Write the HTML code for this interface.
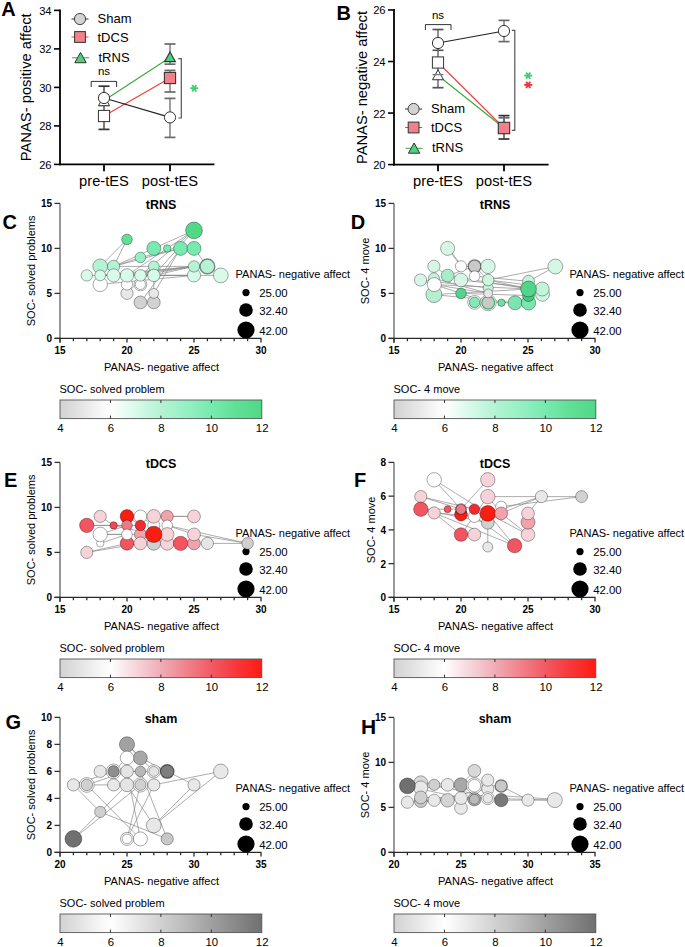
<!DOCTYPE html>
<html><head><meta charset="utf-8"><style>
html,body{margin:0;padding:0;background:#fff;}
svg{display:block;font-family:"Liberation Sans", sans-serif;}
</style></head><body>
<svg width="685" height="947" viewBox="0 0 685 947">
<rect width="685" height="947" fill="#fff"/>
<text x="1.3" y="16.2" font-size="20" text-anchor="start" font-weight="bold" fill="#000">A</text>
<line x1="60.00" y1="9.50" x2="60.00" y2="165.30" stroke="#000" stroke-width="1.8"/>
<line x1="59.10" y1="164.40" x2="214.40" y2="164.40" stroke="#000" stroke-width="1.8"/>
<line x1="54.00" y1="164.40" x2="60.00" y2="164.40" stroke="#000" stroke-width="1.6"/>
<text x="51.6" y="168.9" font-size="11.2" text-anchor="end" fill="#000">26</text>
<line x1="54.00" y1="125.90" x2="60.00" y2="125.90" stroke="#000" stroke-width="1.6"/>
<text x="51.6" y="130.4" font-size="11.2" text-anchor="end" fill="#000">28</text>
<line x1="54.00" y1="87.40" x2="60.00" y2="87.40" stroke="#000" stroke-width="1.6"/>
<text x="51.6" y="91.9" font-size="11.2" text-anchor="end" fill="#000">30</text>
<line x1="54.00" y1="48.90" x2="60.00" y2="48.90" stroke="#000" stroke-width="1.6"/>
<text x="51.6" y="53.400000000000006" font-size="11.2" text-anchor="end" fill="#000">32</text>
<line x1="54.00" y1="10.40" x2="60.00" y2="10.40" stroke="#000" stroke-width="1.6"/>
<text x="51.6" y="14.900000000000006" font-size="11.2" text-anchor="end" fill="#000">34</text>
<line x1="104.00" y1="164.40" x2="104.00" y2="171.20" stroke="#000" stroke-width="1.8"/>
<line x1="170.00" y1="164.40" x2="170.00" y2="171.20" stroke="#000" stroke-width="1.8"/>
<text x="104" y="186.2" font-size="14.7" text-anchor="middle" fill="#000">pre-tES</text>
<text x="170" y="186.2" font-size="14.7" text-anchor="middle" fill="#000">post-tES</text>
<text x="30.7" y="87.3" font-size="14.6" text-anchor="middle" fill="#000" transform="rotate(-90 30.7 87.3)" textLength="148" lengthAdjust="spacingAndGlyphs">PANAS- positive affect</text>
<line x1="71.50" y1="19.00" x2="88.50" y2="19.00" stroke="#333" stroke-width="1"/>
<circle cx="80.00" cy="19.00" r="5.60" fill="#d3d3d3" stroke="#444" stroke-width="1"/>
<line x1="71.50" y1="37.00" x2="88.50" y2="37.00" stroke="#f03c3c" stroke-width="1"/>
<rect x="74.60" y="31.60" width="10.80" height="10.80" fill="#f0808a" stroke="#333" stroke-width="1"/>
<line x1="72.00" y1="57.80" x2="89.00" y2="57.80" stroke="#3aa63a" stroke-width="1"/>
<polygon points="80.50,52.46 86.20,62.72 74.80,62.72" fill="#4fcf7f" stroke="#333" stroke-width="1"/>
<text x="97.5" y="23.3" font-size="13" text-anchor="start" fill="#000">Sham</text>
<text x="97.5" y="41.8" font-size="13" text-anchor="start" fill="#000">tDCS</text>
<text x="98.5" y="61.8" font-size="13" text-anchor="start" fill="#000">tRNS</text>
<line x1="104.00" y1="86.20" x2="104.00" y2="129.40" stroke="#333" stroke-width="1.3"/>
<line x1="98.50" y1="86.20" x2="109.50" y2="86.20" stroke="#333" stroke-width="1.7"/>
<line x1="98.50" y1="129.40" x2="109.50" y2="129.40" stroke="#333" stroke-width="1.7"/>
<line x1="98.50" y1="105.60" x2="109.50" y2="105.60" stroke="#777" stroke-width="1.4"/>
<line x1="170.00" y1="98.40" x2="170.00" y2="137.40" stroke="#6a6a6a" stroke-width="1.3"/>
<line x1="164.50" y1="98.40" x2="175.50" y2="98.40" stroke="#6a6a6a" stroke-width="1.7"/>
<line x1="164.50" y1="137.40" x2="175.50" y2="137.40" stroke="#6a6a6a" stroke-width="1.7"/>
<line x1="170.00" y1="70.40" x2="170.00" y2="92.00" stroke="#6a6a6a" stroke-width="1.3"/>
<line x1="164.50" y1="70.40" x2="175.50" y2="70.40" stroke="#6a6a6a" stroke-width="1.7"/>
<line x1="164.50" y1="92.00" x2="175.50" y2="92.00" stroke="#6a6a6a" stroke-width="1.7"/>
<line x1="170.00" y1="44.00" x2="170.00" y2="64.20" stroke="#6a6a6a" stroke-width="1.3"/>
<line x1="164.50" y1="44.00" x2="175.50" y2="44.00" stroke="#6a6a6a" stroke-width="1.7"/>
<line x1="164.50" y1="64.20" x2="175.50" y2="64.20" stroke="#6a6a6a" stroke-width="1.7"/>
<line x1="104.00" y1="100.50" x2="170.00" y2="57.50" stroke="#3aa63a" stroke-width="1.1"/>
<line x1="104.00" y1="116.00" x2="170.00" y2="78.00" stroke="#f03c3c" stroke-width="1.1"/>
<line x1="104.00" y1="98.00" x2="170.00" y2="117.40" stroke="#222" stroke-width="1.1"/>
<polygon points="104.00,95.75 109.50,105.66 98.50,105.66" fill="#fff" stroke="#333" stroke-width="1"/>
<rect x="98.40" y="110.40" width="11.20" height="11.20" fill="#fff" stroke="#333" stroke-width="1"/>
<circle cx="104.00" cy="98.00" r="5.60" fill="#fff" stroke="#333" stroke-width="1"/>
<circle cx="170.00" cy="117.40" r="5.60" fill="#fff" stroke="#333" stroke-width="1"/>
<rect x="164.40" y="72.40" width="11.20" height="11.20" fill="#f0808a" stroke="#333" stroke-width="1.1"/>
<polygon points="170.00,51.95 175.40,61.67 164.60,61.67" fill="#4fcf7f" stroke="#333" stroke-width="1.1"/>
<polyline points="91.2,87 91.2,81.4 116.6,81.4 116.6,87" fill="none" stroke="#333" stroke-width="1"/>
<text x="104" y="75.2" font-size="11.5" text-anchor="middle" fill="#000">ns</text>
<polyline points="178.3,58.6 181.3,58.6 181.3,118 178.3,118" fill="none" stroke="#555" stroke-width="1.2"/>
<line x1="190.20" y1="88.20" x2="198.20" y2="88.20" stroke="#45cc78" stroke-width="1.9"/>
<line x1="192.20" y1="85.01" x2="196.20" y2="91.39" stroke="#45cc78" stroke-width="1.9"/>
<line x1="196.20" y1="85.01" x2="192.20" y2="91.39" stroke="#45cc78" stroke-width="1.9"/>
<text x="336.4" y="20.0" font-size="20" text-anchor="start" font-weight="bold" fill="#000">B</text>
<line x1="394.00" y1="9.08" x2="394.00" y2="165.50" stroke="#000" stroke-width="1.8"/>
<line x1="393.10" y1="164.60" x2="548.60" y2="164.60" stroke="#000" stroke-width="1.8"/>
<line x1="388.00" y1="164.60" x2="394.00" y2="164.60" stroke="#000" stroke-width="1.6"/>
<text x="385.6" y="169.1" font-size="11.2" text-anchor="end" fill="#000">20</text>
<line x1="388.00" y1="113.06" x2="394.00" y2="113.06" stroke="#000" stroke-width="1.6"/>
<text x="385.6" y="117.56" font-size="11.2" text-anchor="end" fill="#000">22</text>
<line x1="388.00" y1="61.52" x2="394.00" y2="61.52" stroke="#000" stroke-width="1.6"/>
<text x="385.6" y="66.02" font-size="11.2" text-anchor="end" fill="#000">24</text>
<line x1="388.00" y1="9.98" x2="394.00" y2="9.98" stroke="#000" stroke-width="1.6"/>
<text x="385.6" y="14.47999999999999" font-size="11.2" text-anchor="end" fill="#000">26</text>
<line x1="438.00" y1="164.60" x2="438.00" y2="171.20" stroke="#000" stroke-width="1.8"/>
<line x1="504.00" y1="164.60" x2="504.00" y2="171.20" stroke="#000" stroke-width="1.8"/>
<text x="438" y="186.2" font-size="14.7" text-anchor="middle" fill="#000">pre-tES</text>
<text x="504" y="186.2" font-size="14.7" text-anchor="middle" fill="#000">post-tES</text>
<text x="366.8" y="87.5" font-size="14.6" text-anchor="middle" fill="#000" transform="rotate(-90 366.8 87.5)" textLength="153" lengthAdjust="spacingAndGlyphs">PANAS- negative affect</text>
<line x1="405.10" y1="109.00" x2="422.10" y2="109.00" stroke="#333" stroke-width="1"/>
<circle cx="413.60" cy="109.00" r="5.60" fill="#d3d3d3" stroke="#444" stroke-width="1"/>
<line x1="405.10" y1="127.50" x2="422.10" y2="127.50" stroke="#f03c3c" stroke-width="1"/>
<rect x="408.20" y="122.10" width="10.80" height="10.80" fill="#f0808a" stroke="#333" stroke-width="1"/>
<line x1="405.60" y1="148.30" x2="422.60" y2="148.30" stroke="#3aa63a" stroke-width="1"/>
<polygon points="414.10,142.96 419.80,153.22 408.40,153.22" fill="#4fcf7f" stroke="#333" stroke-width="1"/>
<text x="431" y="113.3" font-size="13" text-anchor="start" fill="#000">Sham</text>
<text x="431" y="132.3" font-size="13" text-anchor="start" fill="#000">tDCS</text>
<text x="432" y="152.3" font-size="13" text-anchor="start" fill="#000">tRNS</text>
<line x1="438.00" y1="29.50" x2="438.00" y2="87.70" stroke="#555" stroke-width="1.3"/>
<line x1="432.50" y1="29.50" x2="443.50" y2="29.50" stroke="#555" stroke-width="1.7"/>
<line x1="432.50" y1="87.70" x2="443.50" y2="87.70" stroke="#555" stroke-width="1.7"/>
<line x1="432.50" y1="50.30" x2="443.50" y2="50.30" stroke="#555" stroke-width="1.6"/>
<line x1="504.00" y1="20.40" x2="504.00" y2="41.60" stroke="#6a6a6a" stroke-width="1.3"/>
<line x1="498.50" y1="20.40" x2="509.50" y2="20.40" stroke="#6a6a6a" stroke-width="1.7"/>
<line x1="498.50" y1="41.60" x2="509.50" y2="41.60" stroke="#6a6a6a" stroke-width="1.7"/>
<line x1="504.00" y1="115.60" x2="504.00" y2="139.00" stroke="#333" stroke-width="1.3"/>
<line x1="498.50" y1="115.60" x2="509.50" y2="115.60" stroke="#333" stroke-width="1.7"/>
<line x1="498.50" y1="139.00" x2="509.50" y2="139.00" stroke="#333" stroke-width="1.7"/>
<line x1="504.00" y1="117.80" x2="504.00" y2="132.50" stroke="#6a6a6a" stroke-width="1.3"/>
<line x1="498.50" y1="117.80" x2="509.50" y2="117.80" stroke="#6a6a6a" stroke-width="1.7"/>
<line x1="498.50" y1="132.50" x2="509.50" y2="132.50" stroke="#6a6a6a" stroke-width="1.7"/>
<line x1="438.00" y1="43.00" x2="504.00" y2="31.00" stroke="#222" stroke-width="1.1"/>
<line x1="438.00" y1="62.50" x2="504.00" y2="128.00" stroke="#f03c3c" stroke-width="1.1"/>
<line x1="438.00" y1="75.50" x2="504.00" y2="128.00" stroke="#3aa63a" stroke-width="1.1"/>
<circle cx="438.00" cy="43.00" r="5.60" fill="#fff" stroke="#333" stroke-width="1"/>
<rect x="432.40" y="56.90" width="11.20" height="11.20" fill="#fff" stroke="#333" stroke-width="1"/>
<polygon points="438.00,69.85 443.50,79.75 432.50,79.75" fill="#fff" stroke="#333" stroke-width="1"/>
<line x1="432.50" y1="74.60" x2="443.50" y2="74.60" stroke="#777" stroke-width="1.3"/>
<circle cx="504.00" cy="31.00" r="5.60" fill="#fff" stroke="#333" stroke-width="1"/>
<polygon points="504.00,122.65 509.40,132.37 498.60,132.37" fill="#4fcf7f" stroke="#333" stroke-width="1"/>
<rect x="498.30" y="122.30" width="11.40" height="11.40" fill="#f0808a" stroke="#333" stroke-width="1.1"/>
<polyline points="425.4,30 425.4,24.6 451,24.6 451,30" fill="none" stroke="#333" stroke-width="1"/>
<text x="438" y="18.9" font-size="11.5" text-anchor="middle" fill="#000">ns</text>
<polyline points="511.8,30.4 514.8,30.4 514.8,130.4 511.8,130.4" fill="none" stroke="#555" stroke-width="1.2"/>
<line x1="524.20" y1="75.60" x2="532.20" y2="75.60" stroke="#45cc78" stroke-width="1.9"/>
<line x1="526.20" y1="72.41" x2="530.20" y2="78.79" stroke="#45cc78" stroke-width="1.9"/>
<line x1="530.20" y1="72.41" x2="526.20" y2="78.79" stroke="#45cc78" stroke-width="1.9"/>
<line x1="524.20" y1="84.90" x2="532.20" y2="84.90" stroke="#ee3338" stroke-width="1.9"/>
<line x1="526.20" y1="81.71" x2="530.20" y2="88.09" stroke="#ee3338" stroke-width="1.9"/>
<line x1="530.20" y1="81.71" x2="526.20" y2="88.09" stroke="#ee3338" stroke-width="1.9"/>
<line x1="60.00" y1="203.40" x2="60.00" y2="342.90" stroke="#6e6e6e" stroke-width="1.4"/>
<line x1="54.50" y1="338.40" x2="60.00" y2="338.40" stroke="#333" stroke-width="1.3"/>
<text x="52.0" y="342.4" font-size="10" text-anchor="end" font-weight="bold" fill="#000">0</text>
<line x1="54.50" y1="293.40" x2="60.00" y2="293.40" stroke="#333" stroke-width="1.3"/>
<text x="52.0" y="297.4" font-size="10" text-anchor="end" font-weight="bold" fill="#000">5</text>
<line x1="54.50" y1="248.40" x2="60.00" y2="248.40" stroke="#333" stroke-width="1.3"/>
<text x="52.0" y="252.39999999999998" font-size="10" text-anchor="end" font-weight="bold" fill="#000">10</text>
<line x1="54.50" y1="203.40" x2="60.00" y2="203.40" stroke="#333" stroke-width="1.3"/>
<text x="52.0" y="207.39999999999998" font-size="10" text-anchor="end" font-weight="bold" fill="#000">15</text>
<line x1="54.50" y1="338.40" x2="261.50" y2="338.40" stroke="#2a2a2a" stroke-width="1.4"/>
<line x1="60.00" y1="338.40" x2="60.00" y2="342.60" stroke="#2a2a2a" stroke-width="1.3"/>
<text x="60.0" y="353.79999999999995" font-size="10" text-anchor="middle" font-weight="bold" fill="#000">15</text>
<line x1="73.40" y1="338.40" x2="73.40" y2="341.20" stroke="#2a2a2a" stroke-width="1.3"/>
<line x1="86.80" y1="338.40" x2="86.80" y2="341.20" stroke="#2a2a2a" stroke-width="1.3"/>
<line x1="100.20" y1="338.40" x2="100.20" y2="341.20" stroke="#2a2a2a" stroke-width="1.3"/>
<line x1="113.60" y1="338.40" x2="113.60" y2="341.20" stroke="#2a2a2a" stroke-width="1.3"/>
<line x1="127.00" y1="338.40" x2="127.00" y2="342.60" stroke="#2a2a2a" stroke-width="1.3"/>
<text x="127.0" y="353.79999999999995" font-size="10" text-anchor="middle" font-weight="bold" fill="#000">20</text>
<line x1="140.40" y1="338.40" x2="140.40" y2="341.20" stroke="#2a2a2a" stroke-width="1.3"/>
<line x1="153.80" y1="338.40" x2="153.80" y2="341.20" stroke="#2a2a2a" stroke-width="1.3"/>
<line x1="167.20" y1="338.40" x2="167.20" y2="341.20" stroke="#2a2a2a" stroke-width="1.3"/>
<line x1="180.60" y1="338.40" x2="180.60" y2="341.20" stroke="#2a2a2a" stroke-width="1.3"/>
<line x1="194.00" y1="338.40" x2="194.00" y2="342.60" stroke="#2a2a2a" stroke-width="1.3"/>
<text x="194.0" y="353.79999999999995" font-size="10" text-anchor="middle" font-weight="bold" fill="#000">25</text>
<line x1="207.40" y1="338.40" x2="207.40" y2="341.20" stroke="#2a2a2a" stroke-width="1.3"/>
<line x1="220.80" y1="338.40" x2="220.80" y2="341.20" stroke="#2a2a2a" stroke-width="1.3"/>
<line x1="234.20" y1="338.40" x2="234.20" y2="341.20" stroke="#2a2a2a" stroke-width="1.3"/>
<line x1="247.60" y1="338.40" x2="247.60" y2="341.20" stroke="#2a2a2a" stroke-width="1.3"/>
<line x1="261.00" y1="338.40" x2="261.00" y2="342.60" stroke="#2a2a2a" stroke-width="1.3"/>
<text x="261.0" y="353.79999999999995" font-size="10" text-anchor="middle" font-weight="bold" fill="#000">30</text>
<text x="161.5" y="370.9" font-size="11.3" text-anchor="middle" fill="#000" textLength="115" lengthAdjust="spacingAndGlyphs">PANAS- negative affect</text>
<text x="34.8" y="270.9" font-size="11" text-anchor="middle" fill="#000" transform="rotate(-90 34.8 270.9)">SOC- solved problems</text>
<text x="161" y="209.39999999999998" font-size="12.5" text-anchor="middle" font-weight="bold" fill="#000">tRNS</text>
<text x="2.6" y="229" font-size="20" text-anchor="start" font-weight="bold" fill="#000">C</text>
<text x="235.6" y="278.0" font-size="11" text-anchor="start" fill="#000">PANAS- negative affect</text>
<circle cx="246" cy="292.59999999999997" r="3.6" fill="#000"/>
<text x="259.2" y="297.2" font-size="11.4" text-anchor="start" fill="#000">25.00</text>
<circle cx="246" cy="310.0" r="6.8" fill="#000"/>
<text x="259.2" y="314.6" font-size="11.4" text-anchor="start" fill="#000">32.40</text>
<circle cx="246" cy="330.0" r="8.6" fill="#000"/>
<text x="259.2" y="334.6" font-size="11.4" text-anchor="start" fill="#000">42.00</text>
<defs><linearGradient id="cbC" x1="0" x2="1" y1="0" y2="0"><stop offset="0.0000" stop-color="#d2d2d2"/><stop offset="0.0625" stop-color="#dddddd"/><stop offset="0.1250" stop-color="#e8e8e8"/><stop offset="0.1875" stop-color="#f4f4f4"/><stop offset="0.2500" stop-color="#ffffff"/><stop offset="0.3125" stop-color="#ecfcf4"/><stop offset="0.3750" stop-color="#d8faea"/><stop offset="0.4375" stop-color="#c6f6df"/><stop offset="0.5000" stop-color="#b4f3d4"/><stop offset="0.5625" stop-color="#a5f2cc"/><stop offset="0.6250" stop-color="#96f0c4"/><stop offset="0.6875" stop-color="#87edba"/><stop offset="0.7500" stop-color="#78eab0"/><stop offset="0.8125" stop-color="#6ce5a3"/><stop offset="0.8750" stop-color="#5fe096"/><stop offset="0.9375" stop-color="#58dc8e"/><stop offset="1.0000" stop-color="#50d887"/></linearGradient></defs>
<rect x="60" y="400.0" width="201.8" height="18.6" fill="url(#cbC)" stroke="#555" stroke-width="0.9"/>
<line x1="110.45" y1="400.00" x2="110.45" y2="403.00" stroke="#333" stroke-width="1"/>
<line x1="110.45" y1="415.60" x2="110.45" y2="418.60" stroke="#333" stroke-width="1"/>
<line x1="160.90" y1="400.00" x2="160.90" y2="403.00" stroke="#333" stroke-width="1"/>
<line x1="160.90" y1="415.60" x2="160.90" y2="418.60" stroke="#333" stroke-width="1"/>
<line x1="211.35" y1="400.00" x2="211.35" y2="403.00" stroke="#333" stroke-width="1"/>
<line x1="211.35" y1="415.60" x2="211.35" y2="418.60" stroke="#333" stroke-width="1"/>
<text x="60.4" y="432.0" font-size="11.4" text-anchor="middle" fill="#000">4</text>
<text x="110.85000000000001" y="432.0" font-size="11.4" text-anchor="middle" fill="#000">6</text>
<text x="161.3" y="432.0" font-size="11.4" text-anchor="middle" fill="#000">8</text>
<text x="211.75000000000003" y="432.0" font-size="11.4" text-anchor="middle" fill="#000">10</text>
<text x="262.2" y="432.0" font-size="11.4" text-anchor="middle" fill="#000">12</text>
<text x="59.5" y="393.4" font-size="11.0" text-anchor="start" fill="#000">SOC- solved problem</text>
<line x1="100.20" y1="266.40" x2="127.00" y2="239.40" stroke="#8a8a8a" stroke-width="0.7"/>
<line x1="113.60" y1="266.40" x2="127.00" y2="239.40" stroke="#8a8a8a" stroke-width="0.7"/>
<line x1="113.60" y1="266.40" x2="153.80" y2="248.40" stroke="#8a8a8a" stroke-width="0.7"/>
<line x1="113.60" y1="266.40" x2="140.40" y2="257.40" stroke="#8a8a8a" stroke-width="0.7"/>
<line x1="153.80" y1="248.40" x2="194.00" y2="230.40" stroke="#8a8a8a" stroke-width="0.7"/>
<line x1="127.00" y1="275.40" x2="194.00" y2="230.40" stroke="#8a8a8a" stroke-width="0.7"/>
<line x1="140.40" y1="275.40" x2="194.00" y2="230.40" stroke="#8a8a8a" stroke-width="0.7"/>
<line x1="194.00" y1="248.40" x2="207.40" y2="266.40" stroke="#8a8a8a" stroke-width="0.7"/>
<line x1="194.00" y1="275.40" x2="220.80" y2="275.40" stroke="#8a8a8a" stroke-width="0.7"/>
<line x1="100.20" y1="275.40" x2="194.00" y2="266.40" stroke="#8a8a8a" stroke-width="0.7"/>
<line x1="113.60" y1="275.40" x2="194.00" y2="266.40" stroke="#8a8a8a" stroke-width="0.7"/>
<line x1="127.00" y1="275.40" x2="194.00" y2="275.40" stroke="#8a8a8a" stroke-width="0.7"/>
<line x1="140.40" y1="275.40" x2="194.00" y2="275.40" stroke="#8a8a8a" stroke-width="0.7"/>
<line x1="153.80" y1="275.40" x2="194.00" y2="266.40" stroke="#8a8a8a" stroke-width="0.7"/>
<line x1="100.20" y1="284.40" x2="194.00" y2="275.40" stroke="#8a8a8a" stroke-width="0.7"/>
<line x1="153.80" y1="293.40" x2="180.60" y2="248.40" stroke="#8a8a8a" stroke-width="0.7"/>
<line x1="140.40" y1="302.40" x2="180.60" y2="248.40" stroke="#8a8a8a" stroke-width="0.7"/>
<line x1="153.80" y1="293.40" x2="153.80" y2="275.40" stroke="#8a8a8a" stroke-width="0.7"/>
<line x1="127.00" y1="275.40" x2="194.00" y2="266.40" stroke="#8a8a8a" stroke-width="0.7"/>
<line x1="140.40" y1="275.40" x2="194.00" y2="266.40" stroke="#8a8a8a" stroke-width="0.7"/>
<line x1="113.60" y1="275.40" x2="194.00" y2="275.40" stroke="#8a8a8a" stroke-width="0.7"/>
<line x1="153.80" y1="275.40" x2="194.00" y2="230.40" stroke="#8a8a8a" stroke-width="0.7"/>
<line x1="113.60" y1="266.40" x2="194.00" y2="266.40" stroke="#8a8a8a" stroke-width="0.7"/>
<line x1="140.40" y1="284.40" x2="153.80" y2="266.40" stroke="#8a8a8a" stroke-width="0.7"/>
<line x1="113.60" y1="266.40" x2="180.60" y2="248.40" stroke="#8a8a8a" stroke-width="0.7"/>
<line x1="100.20" y1="275.40" x2="153.80" y2="275.40" stroke="#8a8a8a" stroke-width="0.7"/>
<line x1="86.80" y1="275.40" x2="140.40" y2="275.40" stroke="#8a8a8a" stroke-width="0.7"/>
<line x1="127.00" y1="293.40" x2="153.80" y2="266.40" stroke="#8a8a8a" stroke-width="0.7"/>
<line x1="140.40" y1="257.40" x2="180.60" y2="248.40" stroke="#8a8a8a" stroke-width="0.7"/>
<circle cx="140.40" cy="302.40" r="6.40" fill="#d2d2d2" stroke="rgba(0,0,0,0.42)" stroke-width="0.8"/>
<circle cx="153.80" cy="302.40" r="6.40" fill="#d2d2d2" stroke="rgba(0,0,0,0.42)" stroke-width="0.8"/>
<circle cx="127.00" cy="293.40" r="6.10" fill="#e8e8e8" stroke="rgba(0,0,0,0.42)" stroke-width="0.8"/>
<circle cx="153.80" cy="293.40" r="4.90" fill="#e8e8e8" stroke="rgba(0,0,0,0.42)" stroke-width="0.8"/>
<circle cx="140.40" cy="284.40" r="6.40" fill="#ffffff" stroke="rgba(0,0,0,0.42)" stroke-width="0.8"/>
<circle cx="140.40" cy="284.40" r="5.10" fill="#ffffff" stroke="rgba(0,0,0,0.42)" stroke-width="0.8"/>
<circle cx="127.00" cy="284.40" r="5.60" fill="#ffffff" stroke="rgba(0,0,0,0.42)" stroke-width="0.8"/>
<circle cx="100.20" cy="284.40" r="7.20" fill="#ffffff" stroke="rgba(0,0,0,0.42)" stroke-width="0.8"/>
<circle cx="127.00" cy="239.40" r="5.30" fill="#5fe096" stroke="rgba(0,0,0,0.42)" stroke-width="0.8"/>
<circle cx="140.40" cy="257.40" r="5.30" fill="#96f0c4" stroke="rgba(0,0,0,0.42)" stroke-width="0.8"/>
<circle cx="153.80" cy="248.40" r="7.00" fill="#78eab0" stroke="rgba(0,0,0,0.42)" stroke-width="0.8"/>
<circle cx="167.20" cy="248.40" r="3.70" fill="#78eab0" stroke="rgba(0,0,0,0.42)" stroke-width="0.8"/>
<circle cx="180.60" cy="248.40" r="7.00" fill="#78eab0" stroke="rgba(0,0,0,0.42)" stroke-width="0.8"/>
<circle cx="194.00" cy="248.40" r="7.00" fill="#78eab0" stroke="rgba(0,0,0,0.42)" stroke-width="0.8"/>
<circle cx="194.00" cy="230.40" r="8.40" fill="#50d887" stroke="rgba(0,0,0,0.42)" stroke-width="0.8"/>
<circle cx="100.20" cy="266.40" r="7.40" fill="#b4f3d4" stroke="rgba(0,0,0,0.42)" stroke-width="0.8"/>
<circle cx="113.60" cy="266.40" r="6.10" fill="#b4f3d4" stroke="rgba(0,0,0,0.42)" stroke-width="0.8"/>
<circle cx="153.80" cy="266.40" r="5.40" fill="#b4f3d4" stroke="rgba(0,0,0,0.42)" stroke-width="0.8"/>
<circle cx="220.80" cy="275.40" r="7.40" fill="#d8faea" stroke="rgba(0,0,0,0.42)" stroke-width="0.8"/>
<circle cx="194.00" cy="275.40" r="6.60" fill="#d8faea" stroke="rgba(0,0,0,0.42)" stroke-width="0.8"/>
<circle cx="194.00" cy="266.40" r="5.70" fill="#b4f3d4" stroke="rgba(0,0,0,0.42)" stroke-width="0.8"/>
<circle cx="207.40" cy="266.40" r="7.40" fill="#b4f3d4" stroke="rgba(0,0,0,0.45)" stroke-width="1.4"/>
<circle cx="86.80" cy="275.40" r="5.70" fill="#d8faea" stroke="rgba(0,0,0,0.42)" stroke-width="0.8"/>
<circle cx="100.20" cy="275.40" r="5.40" fill="#d8faea" stroke="rgba(0,0,0,0.42)" stroke-width="0.8"/>
<circle cx="113.60" cy="275.40" r="6.60" fill="#d8faea" stroke="rgba(0,0,0,0.42)" stroke-width="0.8"/>
<circle cx="127.00" cy="275.40" r="6.70" fill="#d8faea" stroke="rgba(0,0,0,0.42)" stroke-width="0.8"/>
<circle cx="140.40" cy="275.40" r="5.80" fill="#d8faea" stroke="rgba(0,0,0,0.42)" stroke-width="0.8"/>
<circle cx="153.80" cy="275.40" r="6.20" fill="#d8faea" stroke="rgba(0,0,0,0.42)" stroke-width="0.8"/>
<line x1="394.00" y1="203.40" x2="394.00" y2="342.90" stroke="#6e6e6e" stroke-width="1.4"/>
<line x1="388.50" y1="338.40" x2="394.00" y2="338.40" stroke="#333" stroke-width="1.3"/>
<text x="386.0" y="342.4" font-size="10" text-anchor="end" font-weight="bold" fill="#000">0</text>
<line x1="388.50" y1="293.40" x2="394.00" y2="293.40" stroke="#333" stroke-width="1.3"/>
<text x="386.0" y="297.4" font-size="10" text-anchor="end" font-weight="bold" fill="#000">5</text>
<line x1="388.50" y1="248.40" x2="394.00" y2="248.40" stroke="#333" stroke-width="1.3"/>
<text x="386.0" y="252.39999999999998" font-size="10" text-anchor="end" font-weight="bold" fill="#000">10</text>
<line x1="388.50" y1="203.40" x2="394.00" y2="203.40" stroke="#333" stroke-width="1.3"/>
<text x="386.0" y="207.39999999999998" font-size="10" text-anchor="end" font-weight="bold" fill="#000">15</text>
<line x1="388.50" y1="338.40" x2="595.50" y2="338.40" stroke="#2a2a2a" stroke-width="1.4"/>
<line x1="394.00" y1="338.40" x2="394.00" y2="342.60" stroke="#2a2a2a" stroke-width="1.3"/>
<text x="394.0" y="353.79999999999995" font-size="10" text-anchor="middle" font-weight="bold" fill="#000">15</text>
<line x1="407.40" y1="338.40" x2="407.40" y2="341.20" stroke="#2a2a2a" stroke-width="1.3"/>
<line x1="420.80" y1="338.40" x2="420.80" y2="341.20" stroke="#2a2a2a" stroke-width="1.3"/>
<line x1="434.20" y1="338.40" x2="434.20" y2="341.20" stroke="#2a2a2a" stroke-width="1.3"/>
<line x1="447.60" y1="338.40" x2="447.60" y2="341.20" stroke="#2a2a2a" stroke-width="1.3"/>
<line x1="461.00" y1="338.40" x2="461.00" y2="342.60" stroke="#2a2a2a" stroke-width="1.3"/>
<text x="461.0" y="353.79999999999995" font-size="10" text-anchor="middle" font-weight="bold" fill="#000">20</text>
<line x1="474.40" y1="338.40" x2="474.40" y2="341.20" stroke="#2a2a2a" stroke-width="1.3"/>
<line x1="487.80" y1="338.40" x2="487.80" y2="341.20" stroke="#2a2a2a" stroke-width="1.3"/>
<line x1="501.20" y1="338.40" x2="501.20" y2="341.20" stroke="#2a2a2a" stroke-width="1.3"/>
<line x1="514.60" y1="338.40" x2="514.60" y2="341.20" stroke="#2a2a2a" stroke-width="1.3"/>
<line x1="528.00" y1="338.40" x2="528.00" y2="342.60" stroke="#2a2a2a" stroke-width="1.3"/>
<text x="528.0" y="353.79999999999995" font-size="10" text-anchor="middle" font-weight="bold" fill="#000">25</text>
<line x1="541.40" y1="338.40" x2="541.40" y2="341.20" stroke="#2a2a2a" stroke-width="1.3"/>
<line x1="554.80" y1="338.40" x2="554.80" y2="341.20" stroke="#2a2a2a" stroke-width="1.3"/>
<line x1="568.20" y1="338.40" x2="568.20" y2="341.20" stroke="#2a2a2a" stroke-width="1.3"/>
<line x1="581.60" y1="338.40" x2="581.60" y2="341.20" stroke="#2a2a2a" stroke-width="1.3"/>
<line x1="595.00" y1="338.40" x2="595.00" y2="342.60" stroke="#2a2a2a" stroke-width="1.3"/>
<text x="595.0" y="353.79999999999995" font-size="10" text-anchor="middle" font-weight="bold" fill="#000">30</text>
<text x="495.5" y="370.9" font-size="11.3" text-anchor="middle" fill="#000" textLength="115" lengthAdjust="spacingAndGlyphs">PANAS- negative affect</text>
<text x="368.8" y="270.9" font-size="11" text-anchor="middle" fill="#000" transform="rotate(-90 368.8 270.9)">SOC- 4 move</text>
<text x="495" y="209.39999999999998" font-size="12.5" text-anchor="middle" font-weight="bold" fill="#000">tRNS</text>
<text x="350.8" y="229" font-size="20" text-anchor="start" font-weight="bold" fill="#000">D</text>
<text x="569.6" y="278.0" font-size="11" text-anchor="start" fill="#000">PANAS- negative affect</text>
<circle cx="580" cy="292.59999999999997" r="3.6" fill="#000"/>
<text x="593.2" y="297.2" font-size="11.4" text-anchor="start" fill="#000">25.00</text>
<circle cx="580" cy="310.0" r="6.8" fill="#000"/>
<text x="593.2" y="314.6" font-size="11.4" text-anchor="start" fill="#000">32.40</text>
<circle cx="580" cy="330.0" r="8.6" fill="#000"/>
<text x="593.2" y="334.6" font-size="11.4" text-anchor="start" fill="#000">42.00</text>
<defs><linearGradient id="cbD" x1="0" x2="1" y1="0" y2="0"><stop offset="0.0000" stop-color="#d2d2d2"/><stop offset="0.0625" stop-color="#dddddd"/><stop offset="0.1250" stop-color="#e8e8e8"/><stop offset="0.1875" stop-color="#f4f4f4"/><stop offset="0.2500" stop-color="#ffffff"/><stop offset="0.3125" stop-color="#ecfcf4"/><stop offset="0.3750" stop-color="#d8faea"/><stop offset="0.4375" stop-color="#c6f6df"/><stop offset="0.5000" stop-color="#b4f3d4"/><stop offset="0.5625" stop-color="#a5f2cc"/><stop offset="0.6250" stop-color="#96f0c4"/><stop offset="0.6875" stop-color="#87edba"/><stop offset="0.7500" stop-color="#78eab0"/><stop offset="0.8125" stop-color="#6ce5a3"/><stop offset="0.8750" stop-color="#5fe096"/><stop offset="0.9375" stop-color="#58dc8e"/><stop offset="1.0000" stop-color="#50d887"/></linearGradient></defs>
<rect x="394" y="400.0" width="201.8" height="18.6" fill="url(#cbD)" stroke="#555" stroke-width="0.9"/>
<line x1="444.45" y1="400.00" x2="444.45" y2="403.00" stroke="#333" stroke-width="1"/>
<line x1="444.45" y1="415.60" x2="444.45" y2="418.60" stroke="#333" stroke-width="1"/>
<line x1="494.90" y1="400.00" x2="494.90" y2="403.00" stroke="#333" stroke-width="1"/>
<line x1="494.90" y1="415.60" x2="494.90" y2="418.60" stroke="#333" stroke-width="1"/>
<line x1="545.35" y1="400.00" x2="545.35" y2="403.00" stroke="#333" stroke-width="1"/>
<line x1="545.35" y1="415.60" x2="545.35" y2="418.60" stroke="#333" stroke-width="1"/>
<text x="394.4" y="432.0" font-size="11.4" text-anchor="middle" fill="#000">4</text>
<text x="444.84999999999997" y="432.0" font-size="11.4" text-anchor="middle" fill="#000">6</text>
<text x="495.29999999999995" y="432.0" font-size="11.4" text-anchor="middle" fill="#000">8</text>
<text x="545.75" y="432.0" font-size="11.4" text-anchor="middle" fill="#000">10</text>
<text x="596.1999999999999" y="432.0" font-size="11.4" text-anchor="middle" fill="#000">12</text>
<text x="393.5" y="393.4" font-size="11.0" text-anchor="start" fill="#000">SOC- 4 move</text>
<line x1="447.60" y1="248.40" x2="461.00" y2="266.30" stroke="#8a8a8a" stroke-width="0.7"/>
<line x1="449.00" y1="249.00" x2="462.40" y2="266.80" stroke="#8a8a8a" stroke-width="0.7"/>
<line x1="433.90" y1="266.30" x2="447.60" y2="275.60" stroke="#8a8a8a" stroke-width="0.7"/>
<line x1="447.60" y1="275.60" x2="474.60" y2="266.30" stroke="#8a8a8a" stroke-width="0.7"/>
<line x1="461.00" y1="266.30" x2="488.00" y2="266.40" stroke="#8a8a8a" stroke-width="0.7"/>
<line x1="420.50" y1="280.00" x2="488.20" y2="287.80" stroke="#8a8a8a" stroke-width="0.7"/>
<line x1="434.30" y1="284.60" x2="528.50" y2="289.00" stroke="#8a8a8a" stroke-width="0.7"/>
<line x1="433.90" y1="294.60" x2="528.50" y2="289.00" stroke="#8a8a8a" stroke-width="0.7"/>
<line x1="433.90" y1="294.60" x2="515.00" y2="302.80" stroke="#8a8a8a" stroke-width="0.7"/>
<line x1="434.30" y1="284.60" x2="488.20" y2="293.40" stroke="#8a8a8a" stroke-width="0.7"/>
<line x1="447.60" y1="275.60" x2="528.50" y2="289.00" stroke="#8a8a8a" stroke-width="0.7"/>
<line x1="461.00" y1="280.00" x2="542.20" y2="289.00" stroke="#8a8a8a" stroke-width="0.7"/>
<line x1="461.00" y1="293.40" x2="528.50" y2="295.50" stroke="#8a8a8a" stroke-width="0.7"/>
<line x1="474.60" y1="276.20" x2="528.50" y2="281.30" stroke="#8a8a8a" stroke-width="0.7"/>
<line x1="488.20" y1="280.00" x2="555.30" y2="266.50" stroke="#8a8a8a" stroke-width="0.7"/>
<line x1="528.50" y1="281.30" x2="555.30" y2="266.50" stroke="#8a8a8a" stroke-width="0.7"/>
<line x1="474.60" y1="266.30" x2="488.20" y2="280.00" stroke="#8a8a8a" stroke-width="0.7"/>
<line x1="461.00" y1="293.40" x2="488.20" y2="302.70" stroke="#8a8a8a" stroke-width="0.7"/>
<line x1="433.90" y1="278.20" x2="488.20" y2="293.40" stroke="#8a8a8a" stroke-width="0.7"/>
<line x1="474.60" y1="302.40" x2="528.50" y2="302.90" stroke="#8a8a8a" stroke-width="0.7"/>
<line x1="420.50" y1="280.00" x2="461.00" y2="293.40" stroke="#8a8a8a" stroke-width="0.7"/>
<line x1="488.20" y1="280.00" x2="528.50" y2="289.00" stroke="#8a8a8a" stroke-width="0.7"/>
<line x1="488.20" y1="280.00" x2="528.50" y2="285.00" stroke="#8a8a8a" stroke-width="0.7"/>
<circle cx="433.90" cy="294.60" r="8.00" fill="#b5efd1" stroke="rgba(0,0,0,0.42)" stroke-width="0.8"/>
<circle cx="433.90" cy="278.20" r="5.50" fill="#c4f2da" stroke="rgba(0,0,0,0.42)" stroke-width="0.8"/>
<circle cx="434.30" cy="284.60" r="7.00" fill="#ffffff" stroke="rgba(0,0,0,0.42)" stroke-width="0.8"/>
<circle cx="420.50" cy="280.00" r="6.10" fill="#d6f7e7" stroke="rgba(0,0,0,0.42)" stroke-width="0.8"/>
<circle cx="447.60" cy="248.40" r="7.00" fill="#d6f7e7" stroke="rgba(0,0,0,0.42)" stroke-width="0.8"/>
<circle cx="433.90" cy="266.30" r="6.10" fill="#d6f7e7" stroke="rgba(0,0,0,0.42)" stroke-width="0.8"/>
<circle cx="461.00" cy="266.30" r="5.60" fill="#ffffff" stroke="rgba(0,0,0,0.42)" stroke-width="0.8"/>
<circle cx="474.60" cy="266.30" r="6.40" fill="#c9c9c9" stroke="rgba(0,0,0,0.5)" stroke-width="1.2"/>
<circle cx="488.00" cy="266.40" r="7.20" fill="#d6f7e7" stroke="rgba(0,0,0,0.42)" stroke-width="0.8"/>
<circle cx="555.30" cy="266.50" r="7.40" fill="#d6f7e7" stroke="rgba(0,0,0,0.42)" stroke-width="0.8"/>
<circle cx="447.60" cy="275.60" r="6.40" fill="#a9ecc9" stroke="rgba(0,0,0,0.42)" stroke-width="0.8"/>
<circle cx="461.00" cy="280.00" r="6.80" fill="#d6f7e7" stroke="rgba(0,0,0,0.42)" stroke-width="0.8"/>
<circle cx="461.00" cy="293.40" r="5.30" fill="#52d48a" stroke="rgba(0,0,0,0.42)" stroke-width="0.8"/>
<circle cx="474.60" cy="276.20" r="5.30" fill="#ffffff" stroke="rgba(0,0,0,0.42)" stroke-width="0.8"/>
<circle cx="474.60" cy="302.40" r="6.90" fill="#ffffff" stroke="rgba(0,0,0,0.42)" stroke-width="0.8"/>
<circle cx="474.60" cy="302.40" r="5.30" fill="#86e6b5" stroke="rgba(0,0,0,0.42)" stroke-width="0.8"/>
<circle cx="488.20" cy="287.80" r="5.00" fill="#c4f2da" stroke="rgba(0,0,0,0.42)" stroke-width="0.8"/>
<circle cx="488.20" cy="280.00" r="5.80" fill="#cdf5e0" stroke="rgba(0,0,0,0.42)" stroke-width="0.8"/>
<circle cx="488.20" cy="302.70" r="8.00" fill="#ffffff" stroke="rgba(0,0,0,0.42)" stroke-width="0.8"/>
<circle cx="488.20" cy="302.70" r="6.40" fill="#c9c9c9" stroke="#3fae6a" stroke-width="1.2"/>
<circle cx="488.20" cy="293.40" r="4.40" fill="#e6e6e6" stroke="rgba(0,0,0,0.42)" stroke-width="0.8"/>
<circle cx="501.50" cy="302.70" r="3.70" fill="#6ee0a0" stroke="rgba(0,0,0,0.42)" stroke-width="0.8"/>
<circle cx="515.00" cy="302.80" r="7.00" fill="#7ce4ae" stroke="rgba(0,0,0,0.42)" stroke-width="0.8"/>
<circle cx="528.50" cy="281.30" r="6.00" fill="#c4f2da" stroke="rgba(0,0,0,0.42)" stroke-width="0.8"/>
<circle cx="528.50" cy="302.90" r="7.20" fill="#7ce4ae" stroke="rgba(0,0,0,0.42)" stroke-width="0.8"/>
<circle cx="528.50" cy="295.50" r="6.00" fill="#45c97e" stroke="rgba(0,0,0,0.42)" stroke-width="0.8"/>
<circle cx="542.50" cy="294.30" r="7.00" fill="#d0f6e2" stroke="rgba(0,0,0,0.42)" stroke-width="0.8"/>
<circle cx="542.20" cy="289.00" r="7.00" fill="#c4f2da" stroke="rgba(0,0,0,0.42)" stroke-width="0.8"/>
<circle cx="528.50" cy="289.00" r="7.90" fill="#52d48a" stroke="rgba(0,0,0,0.42)" stroke-width="0.8"/>
<line x1="60.00" y1="462.40" x2="60.00" y2="601.90" stroke="#6e6e6e" stroke-width="1.4"/>
<line x1="54.50" y1="597.40" x2="60.00" y2="597.40" stroke="#333" stroke-width="1.3"/>
<text x="52.0" y="601.4" font-size="10" text-anchor="end" font-weight="bold" fill="#000">0</text>
<line x1="54.50" y1="552.40" x2="60.00" y2="552.40" stroke="#333" stroke-width="1.3"/>
<text x="52.0" y="556.4" font-size="10" text-anchor="end" font-weight="bold" fill="#000">5</text>
<line x1="54.50" y1="507.40" x2="60.00" y2="507.40" stroke="#333" stroke-width="1.3"/>
<text x="52.0" y="511.4" font-size="10" text-anchor="end" font-weight="bold" fill="#000">10</text>
<line x1="54.50" y1="462.40" x2="60.00" y2="462.40" stroke="#333" stroke-width="1.3"/>
<text x="52.0" y="466.4" font-size="10" text-anchor="end" font-weight="bold" fill="#000">15</text>
<line x1="54.50" y1="597.40" x2="261.50" y2="597.40" stroke="#2a2a2a" stroke-width="1.4"/>
<line x1="60.00" y1="597.40" x2="60.00" y2="601.60" stroke="#2a2a2a" stroke-width="1.3"/>
<text x="60.0" y="612.8" font-size="10" text-anchor="middle" font-weight="bold" fill="#000">15</text>
<line x1="73.40" y1="597.40" x2="73.40" y2="600.20" stroke="#2a2a2a" stroke-width="1.3"/>
<line x1="86.80" y1="597.40" x2="86.80" y2="600.20" stroke="#2a2a2a" stroke-width="1.3"/>
<line x1="100.20" y1="597.40" x2="100.20" y2="600.20" stroke="#2a2a2a" stroke-width="1.3"/>
<line x1="113.60" y1="597.40" x2="113.60" y2="600.20" stroke="#2a2a2a" stroke-width="1.3"/>
<line x1="127.00" y1="597.40" x2="127.00" y2="601.60" stroke="#2a2a2a" stroke-width="1.3"/>
<text x="127.0" y="612.8" font-size="10" text-anchor="middle" font-weight="bold" fill="#000">20</text>
<line x1="140.40" y1="597.40" x2="140.40" y2="600.20" stroke="#2a2a2a" stroke-width="1.3"/>
<line x1="153.80" y1="597.40" x2="153.80" y2="600.20" stroke="#2a2a2a" stroke-width="1.3"/>
<line x1="167.20" y1="597.40" x2="167.20" y2="600.20" stroke="#2a2a2a" stroke-width="1.3"/>
<line x1="180.60" y1="597.40" x2="180.60" y2="600.20" stroke="#2a2a2a" stroke-width="1.3"/>
<line x1="194.00" y1="597.40" x2="194.00" y2="601.60" stroke="#2a2a2a" stroke-width="1.3"/>
<text x="194.0" y="612.8" font-size="10" text-anchor="middle" font-weight="bold" fill="#000">25</text>
<line x1="207.40" y1="597.40" x2="207.40" y2="600.20" stroke="#2a2a2a" stroke-width="1.3"/>
<line x1="220.80" y1="597.40" x2="220.80" y2="600.20" stroke="#2a2a2a" stroke-width="1.3"/>
<line x1="234.20" y1="597.40" x2="234.20" y2="600.20" stroke="#2a2a2a" stroke-width="1.3"/>
<line x1="247.60" y1="597.40" x2="247.60" y2="600.20" stroke="#2a2a2a" stroke-width="1.3"/>
<line x1="261.00" y1="597.40" x2="261.00" y2="601.60" stroke="#2a2a2a" stroke-width="1.3"/>
<text x="261.0" y="612.8" font-size="10" text-anchor="middle" font-weight="bold" fill="#000">30</text>
<text x="161.5" y="629.9" font-size="11.3" text-anchor="middle" fill="#000" textLength="115" lengthAdjust="spacingAndGlyphs">PANAS- negative affect</text>
<text x="34.8" y="529.9" font-size="11" text-anchor="middle" fill="#000" transform="rotate(-90 34.8 529.9)">SOC- solved problems</text>
<text x="161" y="468.4" font-size="12.5" text-anchor="middle" font-weight="bold" fill="#000">tDCS</text>
<text x="4.0" y="486.6" font-size="20" text-anchor="start" font-weight="bold" fill="#000">E</text>
<text x="235.6" y="537.0" font-size="11" text-anchor="start" fill="#000">PANAS- negative affect</text>
<circle cx="246" cy="551.6" r="3.6" fill="#000"/>
<text x="259.2" y="556.2" font-size="11.4" text-anchor="start" fill="#000">25.00</text>
<circle cx="246" cy="569.0" r="6.8" fill="#000"/>
<text x="259.2" y="573.6" font-size="11.4" text-anchor="start" fill="#000">32.40</text>
<circle cx="246" cy="589.0" r="8.6" fill="#000"/>
<text x="259.2" y="593.6" font-size="11.4" text-anchor="start" fill="#000">42.00</text>
<defs><linearGradient id="cbE" x1="0" x2="1" y1="0" y2="0"><stop offset="0.0000" stop-color="#d2d2d2"/><stop offset="0.0625" stop-color="#dddddd"/><stop offset="0.1250" stop-color="#e8e8e8"/><stop offset="0.1875" stop-color="#f4f4f4"/><stop offset="0.2500" stop-color="#ffffff"/><stop offset="0.3125" stop-color="#faeaee"/><stop offset="0.3750" stop-color="#f6d6dc"/><stop offset="0.4375" stop-color="#f3c1c9"/><stop offset="0.5000" stop-color="#f0acb6"/><stop offset="0.5625" stop-color="#f097a1"/><stop offset="0.6250" stop-color="#f0828c"/><stop offset="0.6875" stop-color="#f16e78"/><stop offset="0.7500" stop-color="#f25a64"/><stop offset="0.8125" stop-color="#f5484f"/><stop offset="0.8750" stop-color="#f8373a"/><stop offset="0.9375" stop-color="#fa2a26"/><stop offset="1.0000" stop-color="#fc1c12"/></linearGradient></defs>
<rect x="60" y="659.0" width="201.8" height="18.6" fill="url(#cbE)" stroke="#555" stroke-width="0.9"/>
<line x1="110.45" y1="659.00" x2="110.45" y2="662.00" stroke="#333" stroke-width="1"/>
<line x1="110.45" y1="674.60" x2="110.45" y2="677.60" stroke="#333" stroke-width="1"/>
<line x1="160.90" y1="659.00" x2="160.90" y2="662.00" stroke="#333" stroke-width="1"/>
<line x1="160.90" y1="674.60" x2="160.90" y2="677.60" stroke="#333" stroke-width="1"/>
<line x1="211.35" y1="659.00" x2="211.35" y2="662.00" stroke="#333" stroke-width="1"/>
<line x1="211.35" y1="674.60" x2="211.35" y2="677.60" stroke="#333" stroke-width="1"/>
<text x="60.4" y="691.0" font-size="11.4" text-anchor="middle" fill="#000">4</text>
<text x="110.85000000000001" y="691.0" font-size="11.4" text-anchor="middle" fill="#000">6</text>
<text x="161.3" y="691.0" font-size="11.4" text-anchor="middle" fill="#000">8</text>
<text x="211.75000000000003" y="691.0" font-size="11.4" text-anchor="middle" fill="#000">10</text>
<text x="262.2" y="691.0" font-size="11.4" text-anchor="middle" fill="#000">12</text>
<text x="59.5" y="652.4" font-size="11.0" text-anchor="start" fill="#000">SOC- solved problem</text>
<line x1="100.20" y1="516.40" x2="113.60" y2="525.40" stroke="#8a8a8a" stroke-width="0.7"/>
<line x1="86.80" y1="525.40" x2="127.00" y2="525.40" stroke="#8a8a8a" stroke-width="0.7"/>
<line x1="100.20" y1="534.40" x2="127.00" y2="525.40" stroke="#8a8a8a" stroke-width="0.7"/>
<line x1="100.20" y1="534.40" x2="127.00" y2="534.40" stroke="#8a8a8a" stroke-width="0.7"/>
<line x1="100.20" y1="543.40" x2="127.00" y2="534.40" stroke="#8a8a8a" stroke-width="0.7"/>
<line x1="86.80" y1="552.40" x2="127.00" y2="543.40" stroke="#8a8a8a" stroke-width="0.7"/>
<line x1="86.80" y1="552.40" x2="140.40" y2="543.40" stroke="#8a8a8a" stroke-width="0.7"/>
<line x1="153.80" y1="516.40" x2="194.00" y2="516.40" stroke="#8a8a8a" stroke-width="0.7"/>
<line x1="167.20" y1="516.40" x2="194.00" y2="516.40" stroke="#8a8a8a" stroke-width="0.7"/>
<line x1="167.20" y1="525.40" x2="194.00" y2="534.40" stroke="#8a8a8a" stroke-width="0.7"/>
<line x1="167.20" y1="525.40" x2="247.60" y2="543.40" stroke="#8a8a8a" stroke-width="0.7"/>
<line x1="194.00" y1="534.40" x2="247.60" y2="543.40" stroke="#8a8a8a" stroke-width="0.7"/>
<line x1="207.40" y1="543.40" x2="247.60" y2="543.40" stroke="#8a8a8a" stroke-width="0.7"/>
<line x1="127.00" y1="516.40" x2="140.40" y2="525.40" stroke="#8a8a8a" stroke-width="0.7"/>
<line x1="140.40" y1="516.40" x2="153.80" y2="525.40" stroke="#8a8a8a" stroke-width="0.7"/>
<line x1="86.80" y1="525.40" x2="140.40" y2="525.40" stroke="#8a8a8a" stroke-width="0.7"/>
<line x1="100.20" y1="534.40" x2="140.40" y2="534.40" stroke="#8a8a8a" stroke-width="0.7"/>
<line x1="113.60" y1="525.40" x2="153.80" y2="534.40" stroke="#8a8a8a" stroke-width="0.7"/>
<circle cx="86.80" cy="552.40" r="6.10" fill="#f6d3d8" stroke="rgba(0,0,0,0.42)" stroke-width="0.8"/>
<circle cx="100.20" cy="543.40" r="3.70" fill="#ffffff" stroke="rgba(0,0,0,0.42)" stroke-width="0.8"/>
<circle cx="100.20" cy="534.40" r="7.20" fill="#ffffff" stroke="rgba(0,0,0,0.42)" stroke-width="0.8"/>
<circle cx="86.80" cy="525.40" r="7.20" fill="#f2555f" stroke="rgba(0,0,0,0.42)" stroke-width="0.8"/>
<circle cx="100.20" cy="516.40" r="6.10" fill="#f6d3d8" stroke="rgba(0,0,0,0.42)" stroke-width="0.8"/>
<circle cx="113.60" cy="525.40" r="3.70" fill="#f04854" stroke="rgba(0,0,0,0.42)" stroke-width="0.8"/>
<circle cx="153.80" cy="525.40" r="6.00" fill="#ffffff" stroke="rgba(0,0,0,0.42)" stroke-width="0.8"/>
<circle cx="127.00" cy="516.40" r="6.80" fill="#f81e12" stroke="rgba(0,0,0,0.42)" stroke-width="0.8"/>
<circle cx="140.40" cy="516.40" r="6.40" fill="#ffffff" stroke="rgba(0,0,0,0.42)" stroke-width="0.8"/>
<circle cx="153.80" cy="516.40" r="6.80" fill="#f6d3d8" stroke="rgba(0,0,0,0.42)" stroke-width="0.8"/>
<circle cx="167.20" cy="516.40" r="6.10" fill="#f0a3ab" stroke="rgba(0,0,0,0.42)" stroke-width="0.8"/>
<circle cx="194.00" cy="516.40" r="6.40" fill="#f6d3d8" stroke="rgba(0,0,0,0.42)" stroke-width="0.8"/>
<circle cx="140.40" cy="534.40" r="6.00" fill="#f0a3ab" stroke="rgba(0,0,0,0.42)" stroke-width="0.8"/>
<circle cx="167.20" cy="525.40" r="5.30" fill="#ffffff" stroke="rgba(0,0,0,0.42)" stroke-width="0.8"/>
<circle cx="127.00" cy="543.40" r="6.80" fill="#f2555f" stroke="rgba(0,0,0,0.42)" stroke-width="0.8"/>
<circle cx="140.40" cy="543.40" r="6.40" fill="#f6d3d8" stroke="rgba(0,0,0,0.42)" stroke-width="0.8"/>
<circle cx="153.80" cy="543.40" r="6.80" fill="#d0d0d0" stroke="rgba(0,0,0,0.42)" stroke-width="0.8"/>
<circle cx="167.20" cy="543.40" r="6.80" fill="#f6d3d8" stroke="rgba(0,0,0,0.42)" stroke-width="0.8"/>
<circle cx="180.60" cy="543.40" r="7.20" fill="#f2555f" stroke="rgba(0,0,0,0.42)" stroke-width="0.8"/>
<circle cx="194.00" cy="543.40" r="6.40" fill="#f0a3ab" stroke="rgba(0,0,0,0.42)" stroke-width="0.8"/>
<circle cx="207.40" cy="543.40" r="6.10" fill="#e6e6e6" stroke="rgba(0,0,0,0.42)" stroke-width="0.8"/>
<circle cx="247.60" cy="543.40" r="5.80" fill="#d0d0d0" stroke="rgba(0,0,0,0.42)" stroke-width="0.8"/>
<circle cx="127.00" cy="525.40" r="5.30" fill="#ea7b86" stroke="rgba(0,0,0,0.42)" stroke-width="0.8"/>
<circle cx="140.40" cy="525.40" r="5.30" fill="#f22b31" stroke="rgba(0,0,0,0.42)" stroke-width="0.8"/>
<circle cx="127.00" cy="534.40" r="5.30" fill="#ffffff" stroke="rgba(0,0,0,0.42)" stroke-width="0.8"/>
<circle cx="167.20" cy="534.40" r="6.80" fill="#f6d3d8" stroke="rgba(0,0,0,0.42)" stroke-width="0.8"/>
<circle cx="194.00" cy="534.40" r="6.40" fill="#f6d3d8" stroke="rgba(0,0,0,0.42)" stroke-width="0.8"/>
<circle cx="153.80" cy="534.40" r="8.20" fill="#f81e12" stroke="rgba(0,0,0,0.42)" stroke-width="0.8"/>
<line x1="394.00" y1="462.40" x2="394.00" y2="601.90" stroke="#6e6e6e" stroke-width="1.4"/>
<line x1="388.50" y1="597.40" x2="394.00" y2="597.40" stroke="#333" stroke-width="1.3"/>
<text x="386.0" y="601.4" font-size="10" text-anchor="end" font-weight="bold" fill="#000">0</text>
<line x1="388.50" y1="563.65" x2="394.00" y2="563.65" stroke="#333" stroke-width="1.3"/>
<text x="386.0" y="567.65" font-size="10" text-anchor="end" font-weight="bold" fill="#000">2</text>
<line x1="388.50" y1="529.90" x2="394.00" y2="529.90" stroke="#333" stroke-width="1.3"/>
<text x="386.0" y="533.9" font-size="10" text-anchor="end" font-weight="bold" fill="#000">4</text>
<line x1="388.50" y1="496.15" x2="394.00" y2="496.15" stroke="#333" stroke-width="1.3"/>
<text x="386.0" y="500.15" font-size="10" text-anchor="end" font-weight="bold" fill="#000">6</text>
<line x1="388.50" y1="462.40" x2="394.00" y2="462.40" stroke="#333" stroke-width="1.3"/>
<text x="386.0" y="466.4" font-size="10" text-anchor="end" font-weight="bold" fill="#000">8</text>
<line x1="388.50" y1="597.40" x2="595.50" y2="597.40" stroke="#2a2a2a" stroke-width="1.4"/>
<line x1="394.00" y1="597.40" x2="394.00" y2="601.60" stroke="#2a2a2a" stroke-width="1.3"/>
<text x="394.0" y="612.8" font-size="10" text-anchor="middle" font-weight="bold" fill="#000">15</text>
<line x1="407.40" y1="597.40" x2="407.40" y2="600.20" stroke="#2a2a2a" stroke-width="1.3"/>
<line x1="420.80" y1="597.40" x2="420.80" y2="600.20" stroke="#2a2a2a" stroke-width="1.3"/>
<line x1="434.20" y1="597.40" x2="434.20" y2="600.20" stroke="#2a2a2a" stroke-width="1.3"/>
<line x1="447.60" y1="597.40" x2="447.60" y2="600.20" stroke="#2a2a2a" stroke-width="1.3"/>
<line x1="461.00" y1="597.40" x2="461.00" y2="601.60" stroke="#2a2a2a" stroke-width="1.3"/>
<text x="461.0" y="612.8" font-size="10" text-anchor="middle" font-weight="bold" fill="#000">20</text>
<line x1="474.40" y1="597.40" x2="474.40" y2="600.20" stroke="#2a2a2a" stroke-width="1.3"/>
<line x1="487.80" y1="597.40" x2="487.80" y2="600.20" stroke="#2a2a2a" stroke-width="1.3"/>
<line x1="501.20" y1="597.40" x2="501.20" y2="600.20" stroke="#2a2a2a" stroke-width="1.3"/>
<line x1="514.60" y1="597.40" x2="514.60" y2="600.20" stroke="#2a2a2a" stroke-width="1.3"/>
<line x1="528.00" y1="597.40" x2="528.00" y2="601.60" stroke="#2a2a2a" stroke-width="1.3"/>
<text x="528.0" y="612.8" font-size="10" text-anchor="middle" font-weight="bold" fill="#000">25</text>
<line x1="541.40" y1="597.40" x2="541.40" y2="600.20" stroke="#2a2a2a" stroke-width="1.3"/>
<line x1="554.80" y1="597.40" x2="554.80" y2="600.20" stroke="#2a2a2a" stroke-width="1.3"/>
<line x1="568.20" y1="597.40" x2="568.20" y2="600.20" stroke="#2a2a2a" stroke-width="1.3"/>
<line x1="581.60" y1="597.40" x2="581.60" y2="600.20" stroke="#2a2a2a" stroke-width="1.3"/>
<line x1="595.00" y1="597.40" x2="595.00" y2="601.60" stroke="#2a2a2a" stroke-width="1.3"/>
<text x="595.0" y="612.8" font-size="10" text-anchor="middle" font-weight="bold" fill="#000">30</text>
<text x="495.5" y="629.9" font-size="11.3" text-anchor="middle" fill="#000" textLength="115" lengthAdjust="spacingAndGlyphs">PANAS- negative affect</text>
<text x="375.3" y="529.9" font-size="11" text-anchor="middle" fill="#000" transform="rotate(-90 375.3 529.9)">SOC- 4 move</text>
<text x="495" y="468.4" font-size="12.5" text-anchor="middle" font-weight="bold" fill="#000">tDCS</text>
<text x="354.0" y="487" font-size="20" text-anchor="start" font-weight="bold" fill="#000">F</text>
<text x="569.6" y="537.0" font-size="11" text-anchor="start" fill="#000">PANAS- negative affect</text>
<circle cx="580" cy="551.6" r="3.6" fill="#000"/>
<text x="593.2" y="556.2" font-size="11.4" text-anchor="start" fill="#000">25.00</text>
<circle cx="580" cy="569.0" r="6.8" fill="#000"/>
<text x="593.2" y="573.6" font-size="11.4" text-anchor="start" fill="#000">32.40</text>
<circle cx="580" cy="589.0" r="8.6" fill="#000"/>
<text x="593.2" y="593.6" font-size="11.4" text-anchor="start" fill="#000">42.00</text>
<defs><linearGradient id="cbF" x1="0" x2="1" y1="0" y2="0"><stop offset="0.0000" stop-color="#d2d2d2"/><stop offset="0.0625" stop-color="#dddddd"/><stop offset="0.1250" stop-color="#e8e8e8"/><stop offset="0.1875" stop-color="#f4f4f4"/><stop offset="0.2500" stop-color="#ffffff"/><stop offset="0.3125" stop-color="#faeaee"/><stop offset="0.3750" stop-color="#f6d6dc"/><stop offset="0.4375" stop-color="#f3c1c9"/><stop offset="0.5000" stop-color="#f0acb6"/><stop offset="0.5625" stop-color="#f097a1"/><stop offset="0.6250" stop-color="#f0828c"/><stop offset="0.6875" stop-color="#f16e78"/><stop offset="0.7500" stop-color="#f25a64"/><stop offset="0.8125" stop-color="#f5484f"/><stop offset="0.8750" stop-color="#f8373a"/><stop offset="0.9375" stop-color="#fa2a26"/><stop offset="1.0000" stop-color="#fc1c12"/></linearGradient></defs>
<rect x="394" y="659.0" width="201.8" height="18.6" fill="url(#cbF)" stroke="#555" stroke-width="0.9"/>
<line x1="444.45" y1="659.00" x2="444.45" y2="662.00" stroke="#333" stroke-width="1"/>
<line x1="444.45" y1="674.60" x2="444.45" y2="677.60" stroke="#333" stroke-width="1"/>
<line x1="494.90" y1="659.00" x2="494.90" y2="662.00" stroke="#333" stroke-width="1"/>
<line x1="494.90" y1="674.60" x2="494.90" y2="677.60" stroke="#333" stroke-width="1"/>
<line x1="545.35" y1="659.00" x2="545.35" y2="662.00" stroke="#333" stroke-width="1"/>
<line x1="545.35" y1="674.60" x2="545.35" y2="677.60" stroke="#333" stroke-width="1"/>
<text x="394.4" y="691.0" font-size="11.4" text-anchor="middle" fill="#000">4</text>
<text x="444.84999999999997" y="691.0" font-size="11.4" text-anchor="middle" fill="#000">6</text>
<text x="495.29999999999995" y="691.0" font-size="11.4" text-anchor="middle" fill="#000">8</text>
<text x="545.75" y="691.0" font-size="11.4" text-anchor="middle" fill="#000">10</text>
<text x="596.1999999999999" y="691.0" font-size="11.4" text-anchor="middle" fill="#000">12</text>
<text x="393.5" y="652.4" font-size="11.0" text-anchor="start" fill="#000">SOC- 4 move</text>
<line x1="434.20" y1="479.80" x2="461.00" y2="509.20" stroke="#8a8a8a" stroke-width="0.7"/>
<line x1="434.20" y1="479.80" x2="487.80" y2="513.40" stroke="#8a8a8a" stroke-width="0.7"/>
<line x1="487.80" y1="479.80" x2="461.00" y2="509.20" stroke="#8a8a8a" stroke-width="0.7"/>
<line x1="420.80" y1="496.60" x2="461.00" y2="509.20" stroke="#8a8a8a" stroke-width="0.7"/>
<line x1="420.80" y1="496.60" x2="474.40" y2="509.20" stroke="#8a8a8a" stroke-width="0.7"/>
<line x1="434.20" y1="512.90" x2="461.00" y2="534.57" stroke="#8a8a8a" stroke-width="0.7"/>
<line x1="420.80" y1="509.20" x2="461.00" y2="509.20" stroke="#8a8a8a" stroke-width="0.7"/>
<line x1="487.80" y1="496.60" x2="541.40" y2="496.60" stroke="#8a8a8a" stroke-width="0.7"/>
<line x1="541.40" y1="496.60" x2="581.60" y2="496.60" stroke="#8a8a8a" stroke-width="0.7"/>
<line x1="501.20" y1="513.40" x2="541.40" y2="496.60" stroke="#8a8a8a" stroke-width="0.7"/>
<line x1="487.80" y1="513.40" x2="541.40" y2="496.60" stroke="#8a8a8a" stroke-width="0.7"/>
<line x1="501.20" y1="513.40" x2="528.00" y2="534.57" stroke="#8a8a8a" stroke-width="0.7"/>
<line x1="487.80" y1="522.81" x2="487.80" y2="547.00" stroke="#8a8a8a" stroke-width="0.7"/>
<line x1="487.80" y1="513.40" x2="514.60" y2="545.66" stroke="#8a8a8a" stroke-width="0.7"/>
<line x1="474.40" y1="516.42" x2="514.60" y2="545.66" stroke="#8a8a8a" stroke-width="0.7"/>
<line x1="528.00" y1="513.40" x2="541.40" y2="496.60" stroke="#8a8a8a" stroke-width="0.7"/>
<line x1="461.00" y1="534.57" x2="487.80" y2="496.60" stroke="#8a8a8a" stroke-width="0.7"/>
<line x1="501.20" y1="506.68" x2="581.60" y2="496.60" stroke="#8a8a8a" stroke-width="0.7"/>
<line x1="487.80" y1="513.40" x2="528.00" y2="534.57" stroke="#8a8a8a" stroke-width="0.7"/>
<line x1="434.20" y1="512.90" x2="474.40" y2="516.42" stroke="#8a8a8a" stroke-width="0.7"/>
<line x1="434.20" y1="512.90" x2="514.60" y2="545.66" stroke="#8a8a8a" stroke-width="0.7"/>
<line x1="487.80" y1="496.60" x2="501.20" y2="513.40" stroke="#8a8a8a" stroke-width="0.7"/>
<line x1="420.80" y1="509.20" x2="487.80" y2="522.81" stroke="#8a8a8a" stroke-width="0.7"/>
<circle cx="434.20" cy="479.80" r="7.20" fill="#ffffff" stroke="rgba(0,0,0,0.42)" stroke-width="0.8"/>
<circle cx="420.80" cy="496.60" r="6.10" fill="#f6d3d8" stroke="rgba(0,0,0,0.42)" stroke-width="0.8"/>
<circle cx="420.80" cy="509.20" r="7.20" fill="#f2555f" stroke="rgba(0,0,0,0.42)" stroke-width="0.8"/>
<circle cx="434.20" cy="512.90" r="6.10" fill="#f6d3d8" stroke="rgba(0,0,0,0.42)" stroke-width="0.8"/>
<circle cx="447.60" cy="509.20" r="3.50" fill="#f2555f" stroke="rgba(0,0,0,0.42)" stroke-width="0.8"/>
<circle cx="461.00" cy="514.58" r="6.40" fill="#f81e12" stroke="rgba(0,0,0,0.42)" stroke-width="0.8"/>
<circle cx="461.00" cy="509.20" r="5.30" fill="#ea7b86" stroke="rgba(0,0,0,0.5)" stroke-width="1.2"/>
<circle cx="474.40" cy="516.42" r="6.00" fill="#ffffff" stroke="rgba(0,0,0,0.42)" stroke-width="0.8"/>
<circle cx="474.40" cy="509.20" r="5.30" fill="#f22b31" stroke="rgba(0,0,0,0.42)" stroke-width="0.8"/>
<circle cx="487.80" cy="479.80" r="7.20" fill="#f6d3d8" stroke="rgba(0,0,0,0.42)" stroke-width="0.8"/>
<circle cx="487.80" cy="496.60" r="7.20" fill="#f6d3d8" stroke="rgba(0,0,0,0.42)" stroke-width="0.8"/>
<circle cx="487.80" cy="547.00" r="5.00" fill="#e8e8e8" stroke="rgba(0,0,0,0.42)" stroke-width="0.8"/>
<circle cx="487.80" cy="522.81" r="6.40" fill="#d0d0d0" stroke="rgba(0,0,0,0.42)" stroke-width="0.8"/>
<circle cx="487.80" cy="513.40" r="7.90" fill="#f81e12" stroke="rgba(0,0,0,0.42)" stroke-width="0.8"/>
<circle cx="461.00" cy="534.57" r="6.80" fill="#f2555f" stroke="rgba(0,0,0,0.42)" stroke-width="0.8"/>
<circle cx="474.40" cy="534.57" r="6.40" fill="#f6d3d8" stroke="rgba(0,0,0,0.42)" stroke-width="0.8"/>
<circle cx="501.20" cy="506.68" r="5.50" fill="#ffffff" stroke="rgba(0,0,0,0.42)" stroke-width="0.8"/>
<circle cx="501.20" cy="513.40" r="6.40" fill="#f0a3ab" stroke="rgba(0,0,0,0.42)" stroke-width="0.8"/>
<circle cx="528.00" cy="534.57" r="6.80" fill="#f6d3d8" stroke="rgba(0,0,0,0.42)" stroke-width="0.8"/>
<circle cx="528.00" cy="522.14" r="7.00" fill="#f0a3ab" stroke="rgba(0,0,0,0.42)" stroke-width="0.8"/>
<circle cx="528.00" cy="513.40" r="6.40" fill="#f6d3d8" stroke="rgba(0,0,0,0.42)" stroke-width="0.8"/>
<circle cx="514.60" cy="545.66" r="7.20" fill="#f2555f" stroke="rgba(0,0,0,0.42)" stroke-width="0.8"/>
<circle cx="541.40" cy="496.60" r="6.10" fill="#e8e8e8" stroke="rgba(0,0,0,0.42)" stroke-width="0.8"/>
<circle cx="581.60" cy="496.60" r="6.00" fill="#d2d2d2" stroke="rgba(0,0,0,0.42)" stroke-width="0.8"/>
<line x1="60.00" y1="717.40" x2="60.00" y2="856.90" stroke="#6e6e6e" stroke-width="1.4"/>
<line x1="54.50" y1="852.40" x2="60.00" y2="852.40" stroke="#333" stroke-width="1.3"/>
<text x="52.0" y="856.4" font-size="10" text-anchor="end" font-weight="bold" fill="#000">0</text>
<line x1="54.50" y1="825.40" x2="60.00" y2="825.40" stroke="#333" stroke-width="1.3"/>
<text x="52.0" y="829.4" font-size="10" text-anchor="end" font-weight="bold" fill="#000">2</text>
<line x1="54.50" y1="798.40" x2="60.00" y2="798.40" stroke="#333" stroke-width="1.3"/>
<text x="52.0" y="802.4" font-size="10" text-anchor="end" font-weight="bold" fill="#000">4</text>
<line x1="54.50" y1="771.40" x2="60.00" y2="771.40" stroke="#333" stroke-width="1.3"/>
<text x="52.0" y="775.4" font-size="10" text-anchor="end" font-weight="bold" fill="#000">6</text>
<line x1="54.50" y1="744.40" x2="60.00" y2="744.40" stroke="#333" stroke-width="1.3"/>
<text x="52.0" y="748.4" font-size="10" text-anchor="end" font-weight="bold" fill="#000">8</text>
<line x1="54.50" y1="717.40" x2="60.00" y2="717.40" stroke="#333" stroke-width="1.3"/>
<text x="52.0" y="721.4" font-size="10" text-anchor="end" font-weight="bold" fill="#000">10</text>
<line x1="54.50" y1="852.40" x2="261.50" y2="852.40" stroke="#2a2a2a" stroke-width="1.4"/>
<line x1="60.00" y1="852.40" x2="60.00" y2="856.60" stroke="#2a2a2a" stroke-width="1.3"/>
<text x="60.0" y="867.8" font-size="10" text-anchor="middle" font-weight="bold" fill="#000">20</text>
<line x1="73.40" y1="852.40" x2="73.40" y2="855.20" stroke="#2a2a2a" stroke-width="1.3"/>
<line x1="86.80" y1="852.40" x2="86.80" y2="855.20" stroke="#2a2a2a" stroke-width="1.3"/>
<line x1="100.20" y1="852.40" x2="100.20" y2="855.20" stroke="#2a2a2a" stroke-width="1.3"/>
<line x1="113.60" y1="852.40" x2="113.60" y2="855.20" stroke="#2a2a2a" stroke-width="1.3"/>
<line x1="127.00" y1="852.40" x2="127.00" y2="856.60" stroke="#2a2a2a" stroke-width="1.3"/>
<text x="127.0" y="867.8" font-size="10" text-anchor="middle" font-weight="bold" fill="#000">25</text>
<line x1="140.40" y1="852.40" x2="140.40" y2="855.20" stroke="#2a2a2a" stroke-width="1.3"/>
<line x1="153.80" y1="852.40" x2="153.80" y2="855.20" stroke="#2a2a2a" stroke-width="1.3"/>
<line x1="167.20" y1="852.40" x2="167.20" y2="855.20" stroke="#2a2a2a" stroke-width="1.3"/>
<line x1="180.60" y1="852.40" x2="180.60" y2="855.20" stroke="#2a2a2a" stroke-width="1.3"/>
<line x1="194.00" y1="852.40" x2="194.00" y2="856.60" stroke="#2a2a2a" stroke-width="1.3"/>
<text x="194.0" y="867.8" font-size="10" text-anchor="middle" font-weight="bold" fill="#000">30</text>
<line x1="207.40" y1="852.40" x2="207.40" y2="855.20" stroke="#2a2a2a" stroke-width="1.3"/>
<line x1="220.80" y1="852.40" x2="220.80" y2="855.20" stroke="#2a2a2a" stroke-width="1.3"/>
<line x1="234.20" y1="852.40" x2="234.20" y2="855.20" stroke="#2a2a2a" stroke-width="1.3"/>
<line x1="247.60" y1="852.40" x2="247.60" y2="855.20" stroke="#2a2a2a" stroke-width="1.3"/>
<line x1="261.00" y1="852.40" x2="261.00" y2="856.60" stroke="#2a2a2a" stroke-width="1.3"/>
<text x="261.0" y="867.8" font-size="10" text-anchor="middle" font-weight="bold" fill="#000">35</text>
<text x="161.5" y="884.9" font-size="11.3" text-anchor="middle" fill="#000" textLength="115" lengthAdjust="spacingAndGlyphs">PANAS- negative affect</text>
<text x="34.8" y="784.9" font-size="11" text-anchor="middle" fill="#000" transform="rotate(-90 34.8 784.9)">SOC- solved problems</text>
<text x="161" y="723.4" font-size="12.5" text-anchor="middle" font-weight="bold" fill="#000">sham</text>
<text x="5.6" y="729" font-size="20" text-anchor="start" font-weight="bold" fill="#000">G</text>
<text x="235.6" y="792.0" font-size="11" text-anchor="start" fill="#000">PANAS- negative affect</text>
<circle cx="246" cy="806.6" r="3.6" fill="#000"/>
<text x="259.2" y="811.2" font-size="11.4" text-anchor="start" fill="#000">25.00</text>
<circle cx="246" cy="824.0" r="6.8" fill="#000"/>
<text x="259.2" y="828.6" font-size="11.4" text-anchor="start" fill="#000">32.40</text>
<circle cx="246" cy="844.0" r="8.6" fill="#000"/>
<text x="259.2" y="848.6" font-size="11.4" text-anchor="start" fill="#000">42.00</text>
<defs><linearGradient id="cbG" x1="0" x2="1" y1="0" y2="0"><stop offset="0.0000" stop-color="#d2d2d2"/><stop offset="0.0625" stop-color="#dddddd"/><stop offset="0.1250" stop-color="#e8e8e8"/><stop offset="0.1875" stop-color="#f4f4f4"/><stop offset="0.2500" stop-color="#ffffff"/><stop offset="0.3125" stop-color="#f4f4f4"/><stop offset="0.3750" stop-color="#e8e8e8"/><stop offset="0.4375" stop-color="#dcdcdc"/><stop offset="0.5000" stop-color="#d1d1d1"/><stop offset="0.5625" stop-color="#c6c6c6"/><stop offset="0.6250" stop-color="#bababa"/><stop offset="0.6875" stop-color="#adadad"/><stop offset="0.7500" stop-color="#a0a0a0"/><stop offset="0.8125" stop-color="#949494"/><stop offset="0.8750" stop-color="#888888"/><stop offset="0.9375" stop-color="#7c7c7c"/><stop offset="1.0000" stop-color="#707070"/></linearGradient></defs>
<rect x="60" y="914.0" width="201.8" height="18.6" fill="url(#cbG)" stroke="#555" stroke-width="0.9"/>
<line x1="110.45" y1="914.00" x2="110.45" y2="917.00" stroke="#333" stroke-width="1"/>
<line x1="110.45" y1="929.60" x2="110.45" y2="932.60" stroke="#333" stroke-width="1"/>
<line x1="160.90" y1="914.00" x2="160.90" y2="917.00" stroke="#333" stroke-width="1"/>
<line x1="160.90" y1="929.60" x2="160.90" y2="932.60" stroke="#333" stroke-width="1"/>
<line x1="211.35" y1="914.00" x2="211.35" y2="917.00" stroke="#333" stroke-width="1"/>
<line x1="211.35" y1="929.60" x2="211.35" y2="932.60" stroke="#333" stroke-width="1"/>
<text x="60.4" y="946.0" font-size="11.4" text-anchor="middle" fill="#000">4</text>
<text x="110.85000000000001" y="946.0" font-size="11.4" text-anchor="middle" fill="#000">6</text>
<text x="161.3" y="946.0" font-size="11.4" text-anchor="middle" fill="#000">8</text>
<text x="211.75000000000003" y="946.0" font-size="11.4" text-anchor="middle" fill="#000">10</text>
<text x="262.2" y="946.0" font-size="11.4" text-anchor="middle" fill="#000">12</text>
<text x="59.5" y="907.4" font-size="11.0" text-anchor="start" fill="#000">SOC- solved problem</text>
<line x1="73.40" y1="838.90" x2="127.00" y2="784.90" stroke="#8a8a8a" stroke-width="0.7"/>
<line x1="73.40" y1="838.90" x2="140.40" y2="784.90" stroke="#8a8a8a" stroke-width="0.7"/>
<line x1="73.40" y1="784.90" x2="100.20" y2="811.90" stroke="#8a8a8a" stroke-width="0.7"/>
<line x1="86.80" y1="784.90" x2="140.40" y2="838.90" stroke="#8a8a8a" stroke-width="0.7"/>
<line x1="100.20" y1="811.90" x2="167.20" y2="838.90" stroke="#8a8a8a" stroke-width="0.7"/>
<line x1="127.00" y1="784.90" x2="153.80" y2="825.40" stroke="#8a8a8a" stroke-width="0.7"/>
<line x1="153.80" y1="784.90" x2="127.00" y2="838.90" stroke="#8a8a8a" stroke-width="0.7"/>
<line x1="140.40" y1="784.90" x2="127.00" y2="838.90" stroke="#8a8a8a" stroke-width="0.7"/>
<line x1="127.00" y1="771.40" x2="140.40" y2="838.90" stroke="#8a8a8a" stroke-width="0.7"/>
<line x1="140.40" y1="771.40" x2="167.20" y2="838.90" stroke="#8a8a8a" stroke-width="0.7"/>
<line x1="153.80" y1="825.40" x2="220.80" y2="771.40" stroke="#8a8a8a" stroke-width="0.7"/>
<line x1="194.00" y1="784.90" x2="153.80" y2="825.40" stroke="#8a8a8a" stroke-width="0.7"/>
<line x1="127.00" y1="744.40" x2="140.40" y2="757.90" stroke="#8a8a8a" stroke-width="0.7"/>
<line x1="140.40" y1="757.90" x2="167.20" y2="771.40" stroke="#8a8a8a" stroke-width="0.7"/>
<line x1="167.20" y1="771.40" x2="194.00" y2="784.90" stroke="#8a8a8a" stroke-width="0.7"/>
<line x1="153.80" y1="784.90" x2="220.80" y2="771.40" stroke="#8a8a8a" stroke-width="0.7"/>
<line x1="86.80" y1="784.90" x2="113.60" y2="784.90" stroke="#8a8a8a" stroke-width="0.7"/>
<line x1="86.80" y1="784.90" x2="127.00" y2="771.40" stroke="#8a8a8a" stroke-width="0.7"/>
<line x1="73.40" y1="784.90" x2="113.60" y2="771.40" stroke="#8a8a8a" stroke-width="0.7"/>
<line x1="100.20" y1="771.40" x2="140.40" y2="771.40" stroke="#8a8a8a" stroke-width="0.7"/>
<line x1="127.00" y1="757.90" x2="113.60" y2="771.40" stroke="#8a8a8a" stroke-width="0.7"/>
<line x1="113.60" y1="771.40" x2="167.20" y2="771.40" stroke="#8a8a8a" stroke-width="0.7"/>
<line x1="127.00" y1="744.40" x2="153.80" y2="771.40" stroke="#8a8a8a" stroke-width="0.7"/>
<circle cx="127.00" cy="744.40" r="7.60" fill="#a2a2a2" stroke="rgba(0,0,0,0.42)" stroke-width="0.8"/>
<circle cx="140.40" cy="757.90" r="7.00" fill="#a8a8a8" stroke="rgba(0,0,0,0.42)" stroke-width="0.8"/>
<circle cx="127.00" cy="757.90" r="6.80" fill="#ffffff" stroke="rgba(0,0,0,0.42)" stroke-width="0.8"/>
<circle cx="100.20" cy="771.40" r="6.10" fill="#e8e8e8" stroke="rgba(0,0,0,0.42)" stroke-width="0.8"/>
<circle cx="113.60" cy="771.40" r="7.40" fill="#ffffff" stroke="rgba(0,0,0,0.42)" stroke-width="0.8"/>
<circle cx="113.60" cy="771.40" r="5.80" fill="#8e8e8e" stroke="rgba(0,0,0,0.42)" stroke-width="0.8"/>
<circle cx="127.00" cy="771.40" r="6.40" fill="#e4e4e4" stroke="rgba(0,0,0,0.42)" stroke-width="0.8"/>
<circle cx="140.40" cy="771.40" r="5.30" fill="#b8b8b8" stroke="rgba(0,0,0,0.42)" stroke-width="0.8"/>
<circle cx="153.80" cy="771.40" r="6.60" fill="#ffffff" stroke="rgba(0,0,0,0.42)" stroke-width="0.8"/>
<circle cx="153.80" cy="771.40" r="5.00" fill="#e4e4e4" stroke="rgba(0,0,0,0.42)" stroke-width="0.8"/>
<circle cx="167.20" cy="771.40" r="6.80" fill="#7e7e7e" stroke="rgba(0,0,0,0.5)" stroke-width="1.2"/>
<circle cx="73.40" cy="784.90" r="6.10" fill="#e8e8e8" stroke="rgba(0,0,0,0.42)" stroke-width="0.8"/>
<circle cx="86.80" cy="784.90" r="7.40" fill="#ffffff" stroke="rgba(0,0,0,0.42)" stroke-width="0.8"/>
<circle cx="86.80" cy="784.90" r="5.80" fill="#d0d0d0" stroke="rgba(0,0,0,0.42)" stroke-width="0.8"/>
<circle cx="113.60" cy="784.90" r="6.10" fill="#e8e8e8" stroke="rgba(0,0,0,0.42)" stroke-width="0.8"/>
<circle cx="127.00" cy="784.90" r="6.80" fill="#e4e4e4" stroke="rgba(0,0,0,0.42)" stroke-width="0.8"/>
<circle cx="140.40" cy="784.90" r="7.20" fill="#ffffff" stroke="rgba(0,0,0,0.42)" stroke-width="0.8"/>
<circle cx="140.40" cy="784.90" r="5.60" fill="#d0d0d0" stroke="rgba(0,0,0,0.42)" stroke-width="0.8"/>
<circle cx="153.80" cy="784.90" r="6.10" fill="#e8e8e8" stroke="rgba(0,0,0,0.42)" stroke-width="0.8"/>
<circle cx="194.00" cy="784.90" r="6.10" fill="#e8e8e8" stroke="rgba(0,0,0,0.42)" stroke-width="0.8"/>
<circle cx="220.80" cy="771.40" r="7.30" fill="#e8e8e8" stroke="rgba(0,0,0,0.42)" stroke-width="0.8"/>
<circle cx="100.20" cy="811.90" r="5.60" fill="#d0d0d0" stroke="rgba(0,0,0,0.42)" stroke-width="0.8"/>
<circle cx="73.40" cy="838.90" r="8.40" fill="#707070" stroke="rgba(0,0,0,0.42)" stroke-width="0.8"/>
<circle cx="127.00" cy="838.90" r="6.50" fill="#ffffff" stroke="rgba(0,0,0,0.42)" stroke-width="0.8"/>
<circle cx="127.00" cy="838.90" r="4.90" fill="#ffffff" stroke="rgba(0,0,0,0.42)" stroke-width="0.8"/>
<circle cx="140.40" cy="838.90" r="7.00" fill="#ffffff" stroke="rgba(0,0,0,0.42)" stroke-width="0.8"/>
<circle cx="167.20" cy="838.90" r="6.10" fill="#c8c8c8" stroke="rgba(0,0,0,0.42)" stroke-width="0.8"/>
<circle cx="153.80" cy="825.40" r="7.40" fill="#e8e8e8" stroke="rgba(0,0,0,0.42)" stroke-width="0.8"/>
<line x1="394.00" y1="717.40" x2="394.00" y2="856.90" stroke="#6e6e6e" stroke-width="1.4"/>
<line x1="388.50" y1="852.40" x2="394.00" y2="852.40" stroke="#333" stroke-width="1.3"/>
<text x="386.0" y="856.4" font-size="10" text-anchor="end" font-weight="bold" fill="#000">0</text>
<line x1="388.50" y1="807.40" x2="394.00" y2="807.40" stroke="#333" stroke-width="1.3"/>
<text x="386.0" y="811.4" font-size="10" text-anchor="end" font-weight="bold" fill="#000">5</text>
<line x1="388.50" y1="762.40" x2="394.00" y2="762.40" stroke="#333" stroke-width="1.3"/>
<text x="386.0" y="766.4" font-size="10" text-anchor="end" font-weight="bold" fill="#000">10</text>
<line x1="388.50" y1="717.40" x2="394.00" y2="717.40" stroke="#333" stroke-width="1.3"/>
<text x="386.0" y="721.4" font-size="10" text-anchor="end" font-weight="bold" fill="#000">15</text>
<line x1="388.50" y1="852.40" x2="595.50" y2="852.40" stroke="#2a2a2a" stroke-width="1.4"/>
<line x1="394.00" y1="852.40" x2="394.00" y2="856.60" stroke="#2a2a2a" stroke-width="1.3"/>
<text x="394.0" y="867.8" font-size="10" text-anchor="middle" font-weight="bold" fill="#000">20</text>
<line x1="407.40" y1="852.40" x2="407.40" y2="855.20" stroke="#2a2a2a" stroke-width="1.3"/>
<line x1="420.80" y1="852.40" x2="420.80" y2="855.20" stroke="#2a2a2a" stroke-width="1.3"/>
<line x1="434.20" y1="852.40" x2="434.20" y2="855.20" stroke="#2a2a2a" stroke-width="1.3"/>
<line x1="447.60" y1="852.40" x2="447.60" y2="855.20" stroke="#2a2a2a" stroke-width="1.3"/>
<line x1="461.00" y1="852.40" x2="461.00" y2="856.60" stroke="#2a2a2a" stroke-width="1.3"/>
<text x="461.0" y="867.8" font-size="10" text-anchor="middle" font-weight="bold" fill="#000">25</text>
<line x1="474.40" y1="852.40" x2="474.40" y2="855.20" stroke="#2a2a2a" stroke-width="1.3"/>
<line x1="487.80" y1="852.40" x2="487.80" y2="855.20" stroke="#2a2a2a" stroke-width="1.3"/>
<line x1="501.20" y1="852.40" x2="501.20" y2="855.20" stroke="#2a2a2a" stroke-width="1.3"/>
<line x1="514.60" y1="852.40" x2="514.60" y2="855.20" stroke="#2a2a2a" stroke-width="1.3"/>
<line x1="528.00" y1="852.40" x2="528.00" y2="856.60" stroke="#2a2a2a" stroke-width="1.3"/>
<text x="528.0" y="867.8" font-size="10" text-anchor="middle" font-weight="bold" fill="#000">30</text>
<line x1="541.40" y1="852.40" x2="541.40" y2="855.20" stroke="#2a2a2a" stroke-width="1.3"/>
<line x1="554.80" y1="852.40" x2="554.80" y2="855.20" stroke="#2a2a2a" stroke-width="1.3"/>
<line x1="568.20" y1="852.40" x2="568.20" y2="855.20" stroke="#2a2a2a" stroke-width="1.3"/>
<line x1="581.60" y1="852.40" x2="581.60" y2="855.20" stroke="#2a2a2a" stroke-width="1.3"/>
<line x1="595.00" y1="852.40" x2="595.00" y2="856.60" stroke="#2a2a2a" stroke-width="1.3"/>
<text x="595.0" y="867.8" font-size="10" text-anchor="middle" font-weight="bold" fill="#000">35</text>
<text x="495.5" y="884.9" font-size="11.3" text-anchor="middle" fill="#000" textLength="115" lengthAdjust="spacingAndGlyphs">PANAS- negative affect</text>
<text x="368.8" y="784.9" font-size="11" text-anchor="middle" fill="#000" transform="rotate(-90 368.8 784.9)">SOC- 4 move</text>
<text x="495" y="723.4" font-size="12.5" text-anchor="middle" font-weight="bold" fill="#000">sham</text>
<text x="361.0" y="733.6" font-size="21" text-anchor="start" font-weight="bold" fill="#000">H</text>
<text x="569.6" y="792.0" font-size="11" text-anchor="start" fill="#000">PANAS- negative affect</text>
<circle cx="580" cy="806.6" r="3.6" fill="#000"/>
<text x="593.2" y="811.2" font-size="11.4" text-anchor="start" fill="#000">25.00</text>
<circle cx="580" cy="824.0" r="6.8" fill="#000"/>
<text x="593.2" y="828.6" font-size="11.4" text-anchor="start" fill="#000">32.40</text>
<circle cx="580" cy="844.0" r="8.6" fill="#000"/>
<text x="593.2" y="848.6" font-size="11.4" text-anchor="start" fill="#000">42.00</text>
<defs><linearGradient id="cbH" x1="0" x2="1" y1="0" y2="0"><stop offset="0.0000" stop-color="#d2d2d2"/><stop offset="0.0625" stop-color="#dddddd"/><stop offset="0.1250" stop-color="#e8e8e8"/><stop offset="0.1875" stop-color="#f4f4f4"/><stop offset="0.2500" stop-color="#ffffff"/><stop offset="0.3125" stop-color="#f4f4f4"/><stop offset="0.3750" stop-color="#e8e8e8"/><stop offset="0.4375" stop-color="#dcdcdc"/><stop offset="0.5000" stop-color="#d1d1d1"/><stop offset="0.5625" stop-color="#c6c6c6"/><stop offset="0.6250" stop-color="#bababa"/><stop offset="0.6875" stop-color="#adadad"/><stop offset="0.7500" stop-color="#a0a0a0"/><stop offset="0.8125" stop-color="#949494"/><stop offset="0.8750" stop-color="#888888"/><stop offset="0.9375" stop-color="#7c7c7c"/><stop offset="1.0000" stop-color="#707070"/></linearGradient></defs>
<rect x="394" y="914.0" width="201.8" height="18.6" fill="url(#cbH)" stroke="#555" stroke-width="0.9"/>
<line x1="444.45" y1="914.00" x2="444.45" y2="917.00" stroke="#333" stroke-width="1"/>
<line x1="444.45" y1="929.60" x2="444.45" y2="932.60" stroke="#333" stroke-width="1"/>
<line x1="494.90" y1="914.00" x2="494.90" y2="917.00" stroke="#333" stroke-width="1"/>
<line x1="494.90" y1="929.60" x2="494.90" y2="932.60" stroke="#333" stroke-width="1"/>
<line x1="545.35" y1="914.00" x2="545.35" y2="917.00" stroke="#333" stroke-width="1"/>
<line x1="545.35" y1="929.60" x2="545.35" y2="932.60" stroke="#333" stroke-width="1"/>
<text x="394.4" y="946.0" font-size="11.4" text-anchor="middle" fill="#000">4</text>
<text x="444.84999999999997" y="946.0" font-size="11.4" text-anchor="middle" fill="#000">6</text>
<text x="495.29999999999995" y="946.0" font-size="11.4" text-anchor="middle" fill="#000">8</text>
<text x="545.75" y="946.0" font-size="11.4" text-anchor="middle" fill="#000">10</text>
<text x="596.1999999999999" y="946.0" font-size="11.4" text-anchor="middle" fill="#000">12</text>
<text x="393.5" y="907.4" font-size="11.0" text-anchor="start" fill="#000">SOC- 4 move</text>
<line x1="501.20" y1="800.11" x2="528.00" y2="800.11" stroke="#8a8a8a" stroke-width="0.7"/>
<line x1="528.00" y1="800.11" x2="554.80" y2="800.11" stroke="#8a8a8a" stroke-width="0.7"/>
<line x1="501.20" y1="785.98" x2="528.00" y2="800.11" stroke="#8a8a8a" stroke-width="0.7"/>
<line x1="487.80" y1="798.22" x2="554.80" y2="800.11" stroke="#8a8a8a" stroke-width="0.7"/>
<line x1="501.20" y1="795.70" x2="554.80" y2="799.30" stroke="#8a8a8a" stroke-width="0.7"/>
<line x1="461.00" y1="784.81" x2="474.40" y2="770.86" stroke="#8a8a8a" stroke-width="0.7"/>
<line x1="407.40" y1="785.89" x2="461.00" y2="798.04" stroke="#8a8a8a" stroke-width="0.7"/>
<line x1="420.80" y1="787.96" x2="474.40" y2="785.71" stroke="#8a8a8a" stroke-width="0.7"/>
<line x1="420.80" y1="797.41" x2="487.80" y2="798.22" stroke="#8a8a8a" stroke-width="0.7"/>
<line x1="434.20" y1="784.81" x2="501.20" y2="800.11" stroke="#8a8a8a" stroke-width="0.7"/>
<line x1="407.40" y1="802.27" x2="447.60" y2="800.29" stroke="#8a8a8a" stroke-width="0.7"/>
<line x1="420.80" y1="782.83" x2="461.00" y2="784.81" stroke="#8a8a8a" stroke-width="0.7"/>
<line x1="434.20" y1="800.29" x2="487.80" y2="788.86" stroke="#8a8a8a" stroke-width="0.7"/>
<line x1="447.60" y1="784.81" x2="501.20" y2="785.98" stroke="#8a8a8a" stroke-width="0.7"/>
<line x1="420.80" y1="801.10" x2="474.40" y2="799.30" stroke="#8a8a8a" stroke-width="0.7"/>
<circle cx="407.40" cy="802.27" r="6.10" fill="#e8e8e8" stroke="rgba(0,0,0,0.42)" stroke-width="0.8"/>
<circle cx="420.80" cy="801.10" r="6.40" fill="#c8c8c8" stroke="rgba(0,0,0,0.42)" stroke-width="0.8"/>
<circle cx="420.80" cy="782.83" r="7.00" fill="#d8d8d8" stroke="rgba(0,0,0,0.42)" stroke-width="0.8"/>
<circle cx="420.80" cy="787.96" r="7.00" fill="#e8e8e8" stroke="rgba(0,0,0,0.42)" stroke-width="0.8"/>
<circle cx="420.80" cy="797.41" r="6.40" fill="#d0d0d0" stroke="rgba(0,0,0,0.42)" stroke-width="0.8"/>
<circle cx="407.40" cy="785.89" r="7.90" fill="#707070" stroke="rgba(0,0,0,0.42)" stroke-width="0.8"/>
<circle cx="434.20" cy="784.81" r="5.60" fill="#d0d0d0" stroke="rgba(0,0,0,0.42)" stroke-width="0.8"/>
<circle cx="434.20" cy="800.29" r="6.10" fill="#e8e8e8" stroke="rgba(0,0,0,0.42)" stroke-width="0.8"/>
<circle cx="447.60" cy="784.81" r="6.40" fill="#e8e8e8" stroke="rgba(0,0,0,0.42)" stroke-width="0.8"/>
<circle cx="447.60" cy="800.29" r="6.80" fill="#d4d4d4" stroke="rgba(0,0,0,0.42)" stroke-width="0.8"/>
<circle cx="461.00" cy="807.94" r="6.40" fill="#e8e8e8" stroke="rgba(0,0,0,0.42)" stroke-width="0.8"/>
<circle cx="461.00" cy="798.04" r="6.40" fill="#e8e8e8" stroke="rgba(0,0,0,0.42)" stroke-width="0.8"/>
<circle cx="461.00" cy="784.81" r="7.00" fill="#a8a8a8" stroke="rgba(0,0,0,0.42)" stroke-width="0.8"/>
<circle cx="474.40" cy="770.86" r="6.40" fill="#d8d8d8" stroke="rgba(0,0,0,0.42)" stroke-width="0.8"/>
<circle cx="474.40" cy="785.71" r="7.90" fill="#ffffff" stroke="rgba(0,0,0,0.42)" stroke-width="0.8"/>
<circle cx="474.40" cy="785.71" r="6.30" fill="#ffffff" stroke="rgba(0,0,0,0.42)" stroke-width="0.8"/>
<circle cx="474.40" cy="799.30" r="6.60" fill="#b4b4b4" stroke="rgba(0,0,0,0.42)" stroke-width="0.8"/>
<circle cx="474.40" cy="799.30" r="5.00" fill="#bababa" stroke="rgba(0,0,0,0.42)" stroke-width="0.8"/>
<circle cx="487.80" cy="788.86" r="6.10" fill="#e8e8e8" stroke="rgba(0,0,0,0.42)" stroke-width="0.8"/>
<circle cx="487.80" cy="780.13" r="6.10" fill="#e8e8e8" stroke="rgba(0,0,0,0.42)" stroke-width="0.8"/>
<circle cx="487.80" cy="798.22" r="6.40" fill="#ffffff" stroke="rgba(0,0,0,0.42)" stroke-width="0.8"/>
<circle cx="487.80" cy="798.22" r="4.80" fill="#e8e8e8" stroke="rgba(0,0,0,0.42)" stroke-width="0.8"/>
<circle cx="501.20" cy="785.98" r="6.10" fill="#c8c8c8" stroke="rgba(0,0,0,0.5)" stroke-width="1.2"/>
<circle cx="501.20" cy="800.11" r="6.70" fill="#787878" stroke="rgba(0,0,0,0.42)" stroke-width="0.8"/>
<circle cx="528.00" cy="800.11" r="6.10" fill="#e8e8e8" stroke="rgba(0,0,0,0.42)" stroke-width="0.8"/>
<circle cx="554.80" cy="800.11" r="7.50" fill="#e8e8e8" stroke="rgba(0,0,0,0.42)" stroke-width="0.8"/>
</svg></body></html>
